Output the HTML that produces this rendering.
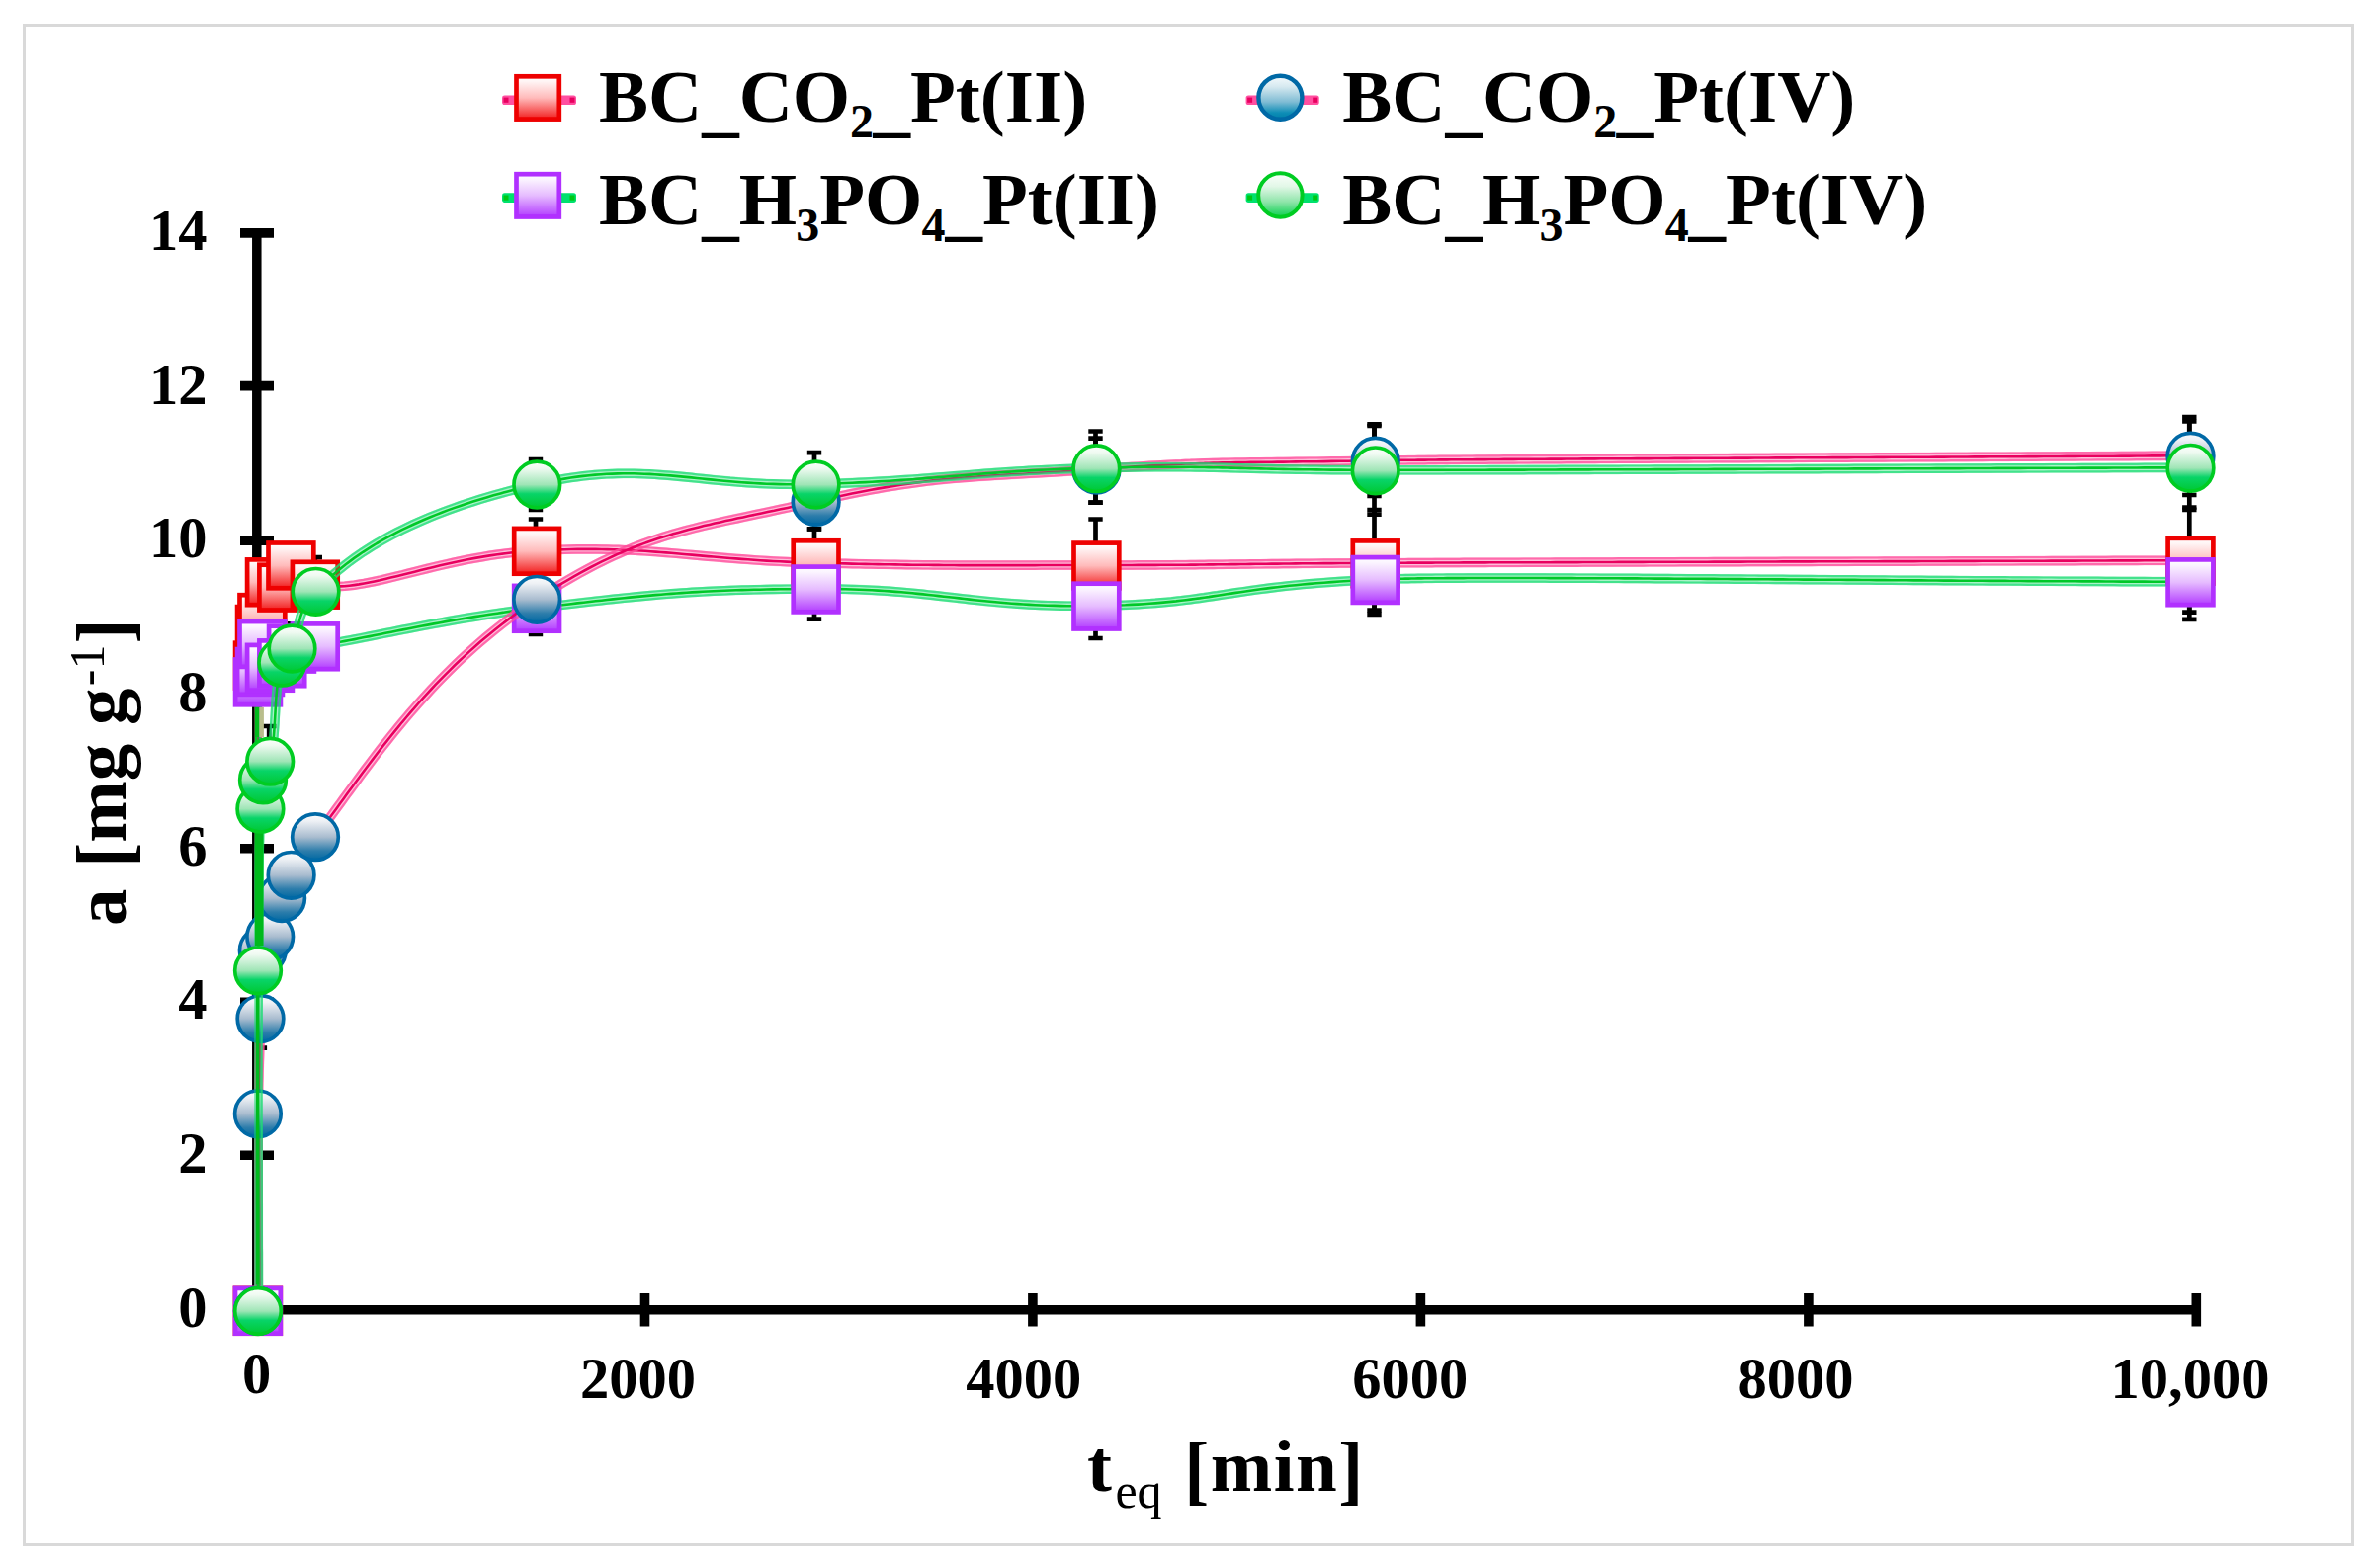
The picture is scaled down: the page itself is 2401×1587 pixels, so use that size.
<!DOCTYPE html>
<html><head><meta charset="utf-8"><title>Adsorption kinetics</title>
<style>
html,body{margin:0;padding:0;background:#fff}
svg{display:block}
text{font-family:"Liberation Serif","Times New Roman",serif;font-weight:bold;fill:#000}
</style></head><body>
<svg width="2401" height="1587" viewBox="0 0 2401 1587">
<defs>
<linearGradient id="gr" x1="0" y1="0" x2="0" y2="1"><stop offset="0" stop-color="#fff"/><stop offset="0.12" stop-color="#fff4f4"/><stop offset="0.5" stop-color="#fbb"/><stop offset="1" stop-color="#f21e1e"/></linearGradient>
<linearGradient id="gp" x1="0" y1="0" x2="0" y2="1"><stop offset="0" stop-color="#fff"/><stop offset="0.12" stop-color="#fbf4ff"/><stop offset="0.5" stop-color="#e6bcff"/><stop offset="1" stop-color="#b23cff"/></linearGradient>
<linearGradient id="gb" x1="0" y1="0" x2="0" y2="1"><stop offset="0" stop-color="#fbfcfd"/><stop offset="0.15" stop-color="#eef1f5"/><stop offset="0.5" stop-color="#a9bccf"/><stop offset="0.8" stop-color="#2d7dab"/><stop offset="1" stop-color="#0068a2"/></linearGradient>
<linearGradient id="gg" x1="0" y1="0" x2="0" y2="1"><stop offset="0" stop-color="#fcfffc"/><stop offset="0.15" stop-color="#effaf1"/><stop offset="0.5" stop-color="#9fe5b6"/><stop offset="0.7" stop-color="#08d468"/><stop offset="1" stop-color="#00c832"/></linearGradient>
<linearGradient id="gbl" x1="0" y1="0" x2="0" y2="1"><stop offset="0" stop-color="#f6fbfd"/><stop offset="0.25" stop-color="#d6e9f0"/><stop offset="0.6" stop-color="#7fbcd4"/><stop offset="0.85" stop-color="#0d8db6"/><stop offset="1" stop-color="#007fa9"/></linearGradient>
<linearGradient id="ggl" x1="0" y1="0" x2="0" y2="1"><stop offset="0" stop-color="#fcfffc"/><stop offset="0.3" stop-color="#e2f7e7"/><stop offset="0.65" stop-color="#8fe5aa"/><stop offset="0.9" stop-color="#2fd669"/><stop offset="1" stop-color="#18cf50"/></linearGradient>
<clipPath id="cl"><rect x="257.5" y="0" width="2200" height="1587"/></clipPath>
</defs>
<rect x="0" y="0" width="2401" height="1587" fill="#fff"/>
<rect x="24.5" y="25.5" width="2356" height="1538" fill="none" stroke="#d9d9d9" stroke-width="3"/>

<g id="axes" stroke="#000" fill="none">
<path d="M259.8 231V1330.4" stroke-width="9.5"/>
<path d="M255 1325.7H2227" stroke-width="9.5"/>
<path d="M243 1325.7H277" stroke-width="9.6"/>
<path d="M243 1169.2H277" stroke-width="9.6"/>
<path d="M243 1014.3H277" stroke-width="9.6"/>
<path d="M243 858.7H277" stroke-width="9.6"/>
<path d="M243 703.0H277" stroke-width="9.6"/>
<path d="M243 547.3H277" stroke-width="9.6"/>
<path d="M243 390.6H277" stroke-width="9.6"/>
<path d="M243 235.9H277" stroke-width="9.6"/>
<path d="M260.0 1309V1342.5" stroke-width="9.6"/>
<path d="M652.5 1309V1342.5" stroke-width="9.6"/>
<path d="M1044.9 1309V1342.5" stroke-width="9.6"/>
<path d="M1437.4 1309V1342.5" stroke-width="9.6"/>
<path d="M1829.9 1309V1342.5" stroke-width="9.6"/>
<path d="M2222.3 1309V1342.5" stroke-width="9.6"/>
</g>
<g id="ticklabels" font-size="58.5">
<text x="209.5" y="1342.7" text-anchor="end">0</text>
<text x="209.5" y="1187.0" text-anchor="end">2</text>
<text x="209.5" y="1031.3" text-anchor="end">4</text>
<text x="209.5" y="875.7" text-anchor="end">6</text>
<text x="209.5" y="720.0" text-anchor="end">8</text>
<text x="209.5" y="564.3" text-anchor="end">10</text>
<text x="209.5" y="408.6" text-anchor="end">12</text>
<text x="209.5" y="252.9" text-anchor="end">14</text>
<text x="259.7" y="1409.7" text-anchor="middle">0</text>
<text x="645.4" y="1414.8" text-anchor="middle">2000</text>
<text x="1035.8" y="1414.8" text-anchor="middle">4000</text>
<text x="1426.8" y="1414.8" text-anchor="middle">6000</text>
<text x="1817" y="1414.8" text-anchor="middle">8000</text>
<text x="2216" y="1414.8" text-anchor="middle">10,000</text>
</g>
<g id="titles" font-size="75">
<text x="1100" y="1508.8">t<tspan font-size="50" font-weight="normal" dy="16.8" dx="3.4">eq</tspan></text>
<text transform="translate(1198.2 1512.7) scale(1 1.055)">[</text>
<text x="1224.7" y="1508.8" letter-spacing="1.52">min</text>
<text transform="translate(1354.3 1512.7) scale(1 1.055)">]</text>
<g transform="translate(127.4 937) rotate(-90)">
<text x="0" y="0">a</text>
<text transform="translate(59.2 3.9) scale(1 1.055)">[</text>
<text x="84.2" y="0">mg g<tspan font-size="50" font-weight="normal" dy="-22.3" dx="2.3">-1</tspan></text>
<text transform="translate(285.6 3.9) scale(1 1.055)">]</text>
</g>
</g>
<g id="errorbars">
<path d="M542 465V516M534.8 465H549.2M534.8 516H549.2" stroke="#000" stroke-width="4.7" fill="none"/>
<path d="M542 525.5V590M534.8 525.5H549.2M534.8 590H549.2" stroke="#000" stroke-width="4.7" fill="none"/>
<path d="M542 590V641.8M534.8 590H549.2M534.8 641.8H549.2" stroke="#000" stroke-width="4.7" fill="none"/>
<path d="M824 458.1V523M816.8 458.1H831.2M816.8 523H831.2" stroke="#000" stroke-width="4.7" fill="none"/>
<path d="M824 480.4V535.4M816.8 480.4H831.2M816.8 535.4H831.2" stroke="#000" stroke-width="4.7" fill="none"/>
<path d="M824 535.5V605M816.8 535.5H831.2M816.8 605H831.2" stroke="#000" stroke-width="4.7" fill="none"/>
<path d="M824 566.4V626.6M816.8 566.4H831.2M816.8 626.6H831.2" stroke="#000" stroke-width="4.7" fill="none"/>
<path d="M1108.5 436.5V508.6M1101.3 436.5H1115.7M1101.3 508.6H1115.7" stroke="#000" stroke-width="4.7" fill="none"/>
<path d="M1108.5 443.6V508.6M1101.3 443.6H1115.7M1101.3 508.6H1115.7" stroke="#000" stroke-width="4.7" fill="none"/>
<path d="M1108.5 525.5V619.5M1101.3 525.5H1115.7M1101.3 619.5H1115.7" stroke="#000" stroke-width="4.7" fill="none"/>
<path d="M1108.5 581V646M1101.3 581H1115.7M1101.3 646H1115.7" stroke="#000" stroke-width="4.7" fill="none"/>
<path d="M1390.5 431V502M1383.3 431H1397.7M1383.3 502H1397.7" stroke="#000" stroke-width="4.7" fill="none"/>
<path d="M1390.5 429.3V520.7M1383.3 429.3H1397.7M1383.3 520.7H1397.7" stroke="#000" stroke-width="4.7" fill="none"/>
<path d="M1390.5 516V621.8M1383.3 516H1397.7M1383.3 621.8H1397.7" stroke="#000" stroke-width="4.7" fill="none"/>
<path d="M1390.5 556.3V617.7M1383.3 556.3H1397.7M1383.3 617.7H1397.7" stroke="#000" stroke-width="4.7" fill="none"/>
<path d="M2215.3 422V501M2208.1000000000004 422H2222.5M2208.1000000000004 501H2222.5" stroke="#000" stroke-width="4.7" fill="none"/>
<path d="M2215.3 426.4V515.8M2208.1000000000004 426.4H2222.5M2208.1000000000004 515.8H2222.5" stroke="#000" stroke-width="4.7" fill="none"/>
<path d="M2215.3 513.5V619.7M2208.1000000000004 513.5H2222.5M2208.1000000000004 619.7H2222.5" stroke="#000" stroke-width="4.7" fill="none"/>
<path d="M2215.3 551.7V626.9M2208.1000000000004 551.7H2222.5M2208.1000000000004 626.9H2222.5" stroke="#000" stroke-width="4.7" fill="none"/>
<path d="M318.8 564.1V619M311.6 564.1H326.0M311.6 619H326.0" stroke="#000" stroke-width="4.7" fill="none"/>
<path d="M272.2 735V806M265.0 735H279.4M265.0 806H279.4" stroke="#000" stroke-width="4.7" fill="none"/>
<path d="M262.9 1001V1060.7M255.7 1001H270.09999999999997M255.7 1060.7H270.09999999999997" stroke="#000" stroke-width="4.7" fill="none"/>
<rect x="291" y="629" width="4" height="4" fill="#000"/>
</g>
<g id="s1">
<g clip-path="url(#cl)"><path d="M261.2 1326.3 L261.2 1318.4 L261.2 1310.6 L261.2 1302.8 L261.2 1294.9 L261.2 1287.1 L261.2 1279.3 L261.2 1271.6 L261.2 1263.8 L261.2 1256.1 L261.1 1248.3 L261.1 1240.6 L261.1 1232.9 L261.1 1225.2 L261.1 1217.6 L261.1 1209.9 L261.1 1202.3 L261.0 1194.7 L261.0 1187.2 L261.0 1179.6 L261.0 1172.1 L261.0 1164.6 L260.9 1157.1 L260.9 1149.6 L260.9 1142.2 L260.9 1134.8 L260.8 1127.4 L260.8 1120.1 L260.8 1112.7 L260.8 1105.4 L260.7 1098.2 L260.7 1090.9 L260.7 1083.7 L260.7 1076.6 L260.6 1069.4 L260.6 1062.3 L260.6 1055.2 L260.6 1048.2 L260.5 1041.2 L260.5 1034.2 L260.5 1027.3 L260.5 1020.4 L260.4 1013.5 L260.4 1006.7 L260.4 999.9 L260.4 993.1 L260.3 986.4 L260.3 979.7 L260.3 973.1 L260.3 966.5 L260.2 960.0 L260.2 953.4 L260.2 947.0 L260.2 940.6 L260.2 934.2 L260.1 927.9 L260.1 921.6 L260.1 915.3 L260.1 909.1 L260.1 903.0 L260.1 896.9 L260.0 890.8 L260.0 884.8 L260.0 878.9 L260.0 873.0 L260.0 867.1 L260.0 861.3 L260.0 855.6 L260.0 849.9 L260.0 844.3 L260.0 838.7 L260.0 833.2 L260.0 827.7 L260.0 822.3 L260.0 816.9 L260.0 811.6 L260.0 806.4 L260.0 801.2 L260.0 796.1 L260.0 791.0 L260.0 786.0 L260.0 781.1 L260.1 776.2 L260.1 771.4 L260.1 766.6 L260.1 761.9 L260.1 757.3 L260.2 752.7 L260.2 748.2 L260.2 743.8 L260.3 739.4 L260.3 735.2 L260.3 730.9 L260.4 726.8 L260.4 722.7 L260.5 718.7 L260.5 714.7 L260.6 710.8 L260.6 707.0 L260.7 703.3 L260.7 699.6 L260.8 696.1 L260.9 692.6 L260.9 689.1 L261.0 685.8 L261.1 682.5 L261.1 679.3 L261.2 676.1 L261.3 673.1 L261.6 662.3 L261.8 654.8 L262.0 649.5 L262.3 645.4 L262.7 641.4 L263.3 636.5 L263.8 632.8 L264.3 630.5 L264.9 628.3 L265.7 624.6 L266.6 618.2 L267.2 611.0 L267.9 603.7 L268.9 597.1 L270.6 591.9 L273.3 588.8 L276.3 589.0 L279.4 591.3 L282.4 593.7 L285.6 594.1 L288.6 589.9 L289.9 582.8 L291.4 575.7 L294.7 571.9 L298.4 572.7 L301.4 576.5 L305.1 581.9 L310.6 587.2 L319.1 591.2 L323.0 592.1 L327.0 592.8 L331.1 593.2 L335.3 593.5 L339.7 593.6 L344.2 593.4 L348.7 593.2 L353.5 592.7 L358.3 592.1 L363.2 591.4 L368.3 590.5 L373.5 589.5 L378.8 588.4 L384.3 587.3 L389.8 586.0 L395.5 584.6 L401.3 583.2 L407.2 581.7 L413.3 580.2 L419.5 578.7 L425.8 577.1 L432.2 575.5 L438.7 573.9 L445.4 572.3 L452.2 570.8 L459.1 569.2 L466.1 567.8 L473.3 566.3 L480.6 564.9 L488.0 563.6 L495.5 562.4 L503.2 561.2 L511.0 560.2 L518.9 559.3 L526.9 558.5 L535.1 557.8 L543.4 557.3 L550.7 556.9 L557.7 556.6 L564.6 556.4 L571.3 556.2 L577.9 556.0 L584.3 555.9 L590.6 555.9 L596.8 555.9 L602.8 555.9 L608.7 556.0 L614.6 556.1 L620.3 556.3 L625.9 556.4 L631.5 556.7 L636.9 556.9 L642.3 557.2 L647.7 557.5 L653.0 557.8 L658.3 558.2 L663.6 558.6 L668.8 559.0 L674.0 559.4 L679.2 559.8 L684.5 560.2 L689.7 560.7 L694.9 561.2 L700.2 561.6 L705.6 562.1 L711.0 562.6 L716.4 563.1 L721.9 563.5 L727.5 564.0 L733.1 564.5 L738.9 565.0 L744.7 565.4 L750.7 565.9 L756.8 566.3 L763.0 566.8 L769.3 567.2 L775.8 567.6 L782.4 568.0 L789.2 568.3 L796.2 568.6 L803.3 569.0 L810.7 569.2 L818.2 569.5 L825.9 569.7 L833.6 569.9 L841.1 570.1 L848.4 570.3 L855.5 570.4 L862.4 570.6 L869.1 570.7 L875.7 570.9 L882.1 571.0 L888.3 571.1 L894.4 571.2 L900.4 571.3 L906.2 571.4 L912.0 571.5 L917.6 571.6 L923.1 571.7 L928.6 571.7 L934.0 571.8 L939.3 571.8 L944.5 571.9 L949.7 571.9 L954.9 572.0 L960.1 572.0 L965.2 572.0 L970.4 572.1 L975.5 572.1 L980.7 572.1 L985.8 572.1 L991.1 572.1 L996.3 572.1 L1001.6 572.1 L1007.0 572.1 L1012.5 572.1 L1018.0 572.1 L1023.6 572.1 L1029.4 572.1 L1035.2 572.1 L1041.2 572.1 L1047.3 572.1 L1053.5 572.0 L1059.9 572.0 L1066.4 572.0 L1073.2 572.0 L1080.1 572.0 L1087.2 572.0 L1094.5 572.0 L1102.0 572.0 L1109.7 572.0 L1117.4 572.0 L1124.7 572.0 L1131.8 572.0 L1138.6 572.0 L1145.1 572.0 L1151.4 571.9 L1157.5 571.9 L1163.4 571.9 L1169.1 571.9 L1174.6 571.8 L1179.9 571.8 L1185.1 571.8 L1190.1 571.7 L1195.0 571.7 L1199.9 571.7 L1204.6 571.6 L1209.3 571.6 L1213.9 571.5 L1218.4 571.5 L1223.0 571.4 L1227.5 571.4 L1232.1 571.3 L1236.6 571.3 L1241.2 571.2 L1245.8 571.1 L1250.6 571.1 L1255.3 571.0 L1260.2 571.0 L1265.2 570.9 L1270.4 570.8 L1275.6 570.8 L1281.1 570.7 L1286.7 570.6 L1292.5 570.6 L1298.5 570.5 L1304.7 570.5 L1311.1 570.4 L1317.8 570.3 L1324.8 570.3 L1332.1 570.2 L1339.6 570.1 L1347.5 570.1 L1355.7 570.0 L1364.2 570.0 L1373.1 569.9 L1382.3 569.9 L1392.0 569.8 L1394.0 569.8 L1396.1 569.8 L1398.3 569.8 L1400.6 569.8 L1403.0 569.7 L1405.5 569.7 L1408.0 569.7 L1410.6 569.7 L1413.4 569.7 L1416.2 569.7 L1419.1 569.7 L1422.1 569.7 L1425.1 569.6 L1428.3 569.6 L1431.5 569.6 L1434.8 569.6 L1438.2 569.6 L1441.7 569.6 L1445.2 569.6 L1448.8 569.6 L1452.5 569.5 L1456.3 569.5 L1460.2 569.5 L1464.1 569.5 L1468.1 569.5 L1472.2 569.5 L1476.3 569.5 L1480.6 569.4 L1484.9 569.4 L1489.2 569.4 L1493.7 569.4 L1498.2 569.4 L1502.8 569.4 L1507.4 569.3 L1512.1 569.3 L1516.9 569.3 L1521.7 569.3 L1526.7 569.3 L1531.6 569.3 L1536.7 569.3 L1541.8 569.2 L1546.9 569.2 L1552.2 569.2 L1557.5 569.2 L1562.8 569.2 L1568.2 569.2 L1573.7 569.1 L1579.2 569.1 L1584.8 569.1 L1590.4 569.1 L1596.1 569.1 L1601.9 569.0 L1607.7 569.0 L1613.5 569.0 L1619.5 569.0 L1625.4 569.0 L1631.4 569.0 L1637.5 568.9 L1643.6 568.9 L1649.8 568.9 L1656.0 568.9 L1662.3 568.9 L1668.6 568.8 L1674.9 568.8 L1681.4 568.8 L1687.8 568.8 L1694.3 568.8 L1700.8 568.7 L1707.4 568.7 L1714.0 568.7 L1720.7 568.7 L1727.4 568.7 L1734.2 568.6 L1740.9 568.6 L1747.8 568.6 L1754.6 568.6 L1761.5 568.6 L1768.5 568.5 L1775.4 568.5 L1782.4 568.5 L1789.5 568.5 L1796.6 568.5 L1803.7 568.4 L1810.8 568.4 L1818.0 568.4 L1825.2 568.4 L1832.4 568.4 L1839.7 568.3 L1847.0 568.3 L1854.3 568.3 L1861.7 568.3 L1869.0 568.3 L1876.4 568.2 L1883.9 568.2 L1891.3 568.2 L1898.8 568.2 L1906.3 568.1 L1913.8 568.1 L1921.3 568.1 L1928.9 568.1 L1936.5 568.1 L1944.1 568.0 L1951.7 568.0 L1959.3 568.0 L1967.0 568.0 L1974.7 567.9 L1982.4 567.9 L1990.1 567.9 L1997.8 567.9 L2005.5 567.8 L2013.3 567.8 L2021.0 567.8 L2028.8 567.8 L2036.6 567.8 L2044.3 567.7 L2052.1 567.7 L2059.9 567.7 L2067.8 567.7 L2075.6 567.6 L2083.4 567.6 L2091.2 567.6 L2099.1 567.6 L2106.9 567.5 L2114.8 567.5 L2122.6 567.5 L2130.5 567.5 L2138.3 567.4 L2146.2 567.4 L2154.0 567.4 L2161.9 567.4 L2169.8 567.3 L2177.6 567.3 L2185.5 567.3 L2193.3 567.3 L2201.1 567.2 L2209.0 567.2 L2216.8 567.2" fill="none" stroke="#ff3d8f" stroke-width="9.8" stroke-linejoin="round" stroke-opacity="0.34"/>
<path d="M257.5 1326.3 L257.5 1318.4 L257.5 1310.6 L257.5 1302.8 L257.5 1294.9 L257.5 1287.1 L257.5 1279.3 L257.5 1271.6 L257.5 1263.8 L257.5 1256.1 L257.4 1248.3 L257.4 1240.6 L257.4 1232.9 L257.4 1225.2 L257.4 1217.6 L257.4 1210.0 L257.4 1202.3 L257.3 1194.7 L257.3 1187.2 L257.3 1179.6 L257.3 1172.1 L257.3 1164.6 L257.2 1157.1 L257.2 1149.6 L257.2 1142.2 L257.2 1134.8 L257.1 1127.4 L257.1 1120.1 L257.1 1112.7 L257.1 1105.5 L257.0 1098.2 L257.0 1091.0 L257.0 1083.7 L257.0 1076.6 L256.9 1069.4 L256.9 1062.3 L256.9 1055.2 L256.9 1048.2 L256.8 1041.2 L256.8 1034.2 L256.8 1027.3 L256.8 1020.4 L256.7 1013.5 L256.7 1006.7 L256.7 999.9 L256.7 993.1 L256.6 986.4 L256.6 979.7 L256.6 973.1 L256.6 966.5 L256.5 960.0 L256.5 953.5 L256.5 947.0 L256.5 940.6 L256.5 934.2 L256.4 927.9 L256.4 921.6 L256.4 915.3 L256.4 909.1 L256.4 903.0 L256.4 896.9 L256.3 890.8 L256.3 884.8 L256.3 878.9 L256.3 873.0 L256.3 867.1 L256.3 861.4 L256.3 855.6 L256.3 849.9 L256.3 844.3 L256.3 838.7 L256.3 833.2 L256.3 827.7 L256.3 822.3 L256.3 816.9 L256.3 811.6 L256.3 806.4 L256.3 801.2 L256.3 796.1 L256.3 791.0 L256.3 786.0 L256.3 781.1 L256.4 776.2 L256.4 771.4 L256.4 766.6 L256.4 761.9 L256.4 757.3 L256.5 752.7 L256.5 748.2 L256.5 743.8 L256.6 739.4 L256.6 735.1 L256.6 730.9 L256.7 726.7 L256.7 722.6 L256.8 718.6 L256.8 714.7 L256.9 710.8 L256.9 707.0 L257.0 703.2 L257.0 699.6 L257.1 696.0 L257.2 692.5 L257.2 689.0 L257.3 685.7 L257.4 682.4 L257.4 679.2 L257.5 676.1 L257.6 673.0 L257.9 662.2 L258.1 654.6 L258.3 649.3 L258.6 645.1 L259.0 641.0 L259.6 636.0 L260.2 632.2 L260.7 629.7 L261.3 627.4 L262.1 624.0 L262.9 617.8 L263.5 610.7 L264.2 603.3 L265.3 596.3 L267.3 590.1 L271.6 585.5 L277.8 585.6 L281.6 588.4 L283.9 590.3 L283.6 591.0 L285.1 588.6 L286.3 582.0 L288.0 574.3 L293.2 568.5 L300.5 569.7 L304.4 574.3 L307.9 579.4 L312.6 584.2 L320.5 587.8 L323.7 588.5 L327.5 589.1 L331.4 589.6 L335.5 589.8 L339.7 589.9 L344.0 589.8 L348.5 589.5 L353.1 589.0 L357.8 588.5 L362.7 587.7 L367.7 586.9 L372.8 585.9 L378.1 584.8 L383.5 583.7 L389.0 582.4 L394.7 581.0 L400.4 579.6 L406.4 578.2 L412.4 576.6 L418.6 575.1 L424.9 573.5 L431.3 571.9 L437.9 570.3 L444.5 568.7 L451.4 567.2 L458.3 565.6 L465.4 564.1 L472.6 562.7 L479.9 561.3 L487.4 560.0 L495.0 558.7 L502.7 557.6 L510.5 556.5 L518.5 555.6 L526.6 554.8 L534.8 554.1 L543.2 553.6 L550.5 553.2 L557.6 552.9 L564.5 552.7 L571.3 552.5 L577.9 552.3 L584.3 552.2 L590.6 552.2 L596.8 552.2 L602.9 552.2 L608.8 552.3 L614.6 552.4 L620.4 552.6 L626.0 552.7 L631.6 553.0 L637.1 553.2 L642.5 553.5 L647.9 553.8 L653.3 554.1 L658.6 554.5 L663.8 554.9 L669.1 555.3 L674.3 555.7 L679.5 556.1 L684.8 556.5 L690.0 557.0 L695.3 557.5 L700.6 557.9 L705.9 558.4 L711.3 558.9 L716.7 559.4 L722.2 559.9 L727.8 560.3 L733.4 560.8 L739.2 561.3 L745.0 561.8 L751.0 562.2 L757.1 562.7 L763.2 563.1 L769.6 563.5 L776.0 563.9 L782.6 564.3 L789.4 564.6 L796.4 564.9 L803.5 565.3 L810.8 565.5 L818.3 565.8 L826.0 566.0 L833.7 566.2 L841.2 566.4 L848.5 566.6 L855.6 566.7 L862.5 566.9 L869.2 567.0 L875.8 567.2 L882.2 567.3 L888.4 567.4 L894.5 567.5 L900.5 567.6 L906.3 567.7 L912.0 567.8 L917.6 567.9 L923.2 568.0 L928.6 568.0 L934.0 568.1 L939.3 568.1 L944.6 568.2 L949.8 568.2 L955.0 568.3 L960.1 568.3 L965.2 568.3 L970.4 568.4 L975.5 568.4 L980.7 568.4 L985.9 568.4 L991.1 568.4 L996.3 568.4 L1001.6 568.4 L1007.0 568.4 L1012.5 568.4 L1018.0 568.4 L1023.6 568.4 L1029.4 568.4 L1035.2 568.4 L1041.2 568.4 L1047.3 568.4 L1053.5 568.3 L1059.9 568.3 L1066.4 568.3 L1073.2 568.3 L1080.1 568.3 L1087.2 568.3 L1094.5 568.3 L1102.0 568.3 L1109.7 568.3 L1117.4 568.3 L1124.7 568.3 L1131.8 568.3 L1138.6 568.3 L1145.1 568.3 L1151.4 568.2 L1157.5 568.2 L1163.4 568.2 L1169.0 568.2 L1174.5 568.1 L1179.9 568.1 L1185.0 568.1 L1190.1 568.0 L1195.0 568.0 L1199.8 568.0 L1204.6 567.9 L1209.2 567.9 L1213.8 567.8 L1218.4 567.8 L1222.9 567.7 L1227.5 567.7 L1232.0 567.6 L1236.6 567.6 L1241.2 567.5 L1245.8 567.4 L1250.5 567.4 L1255.3 567.3 L1260.2 567.3 L1265.2 567.2 L1270.3 567.1 L1275.6 567.1 L1281.0 567.0 L1286.6 566.9 L1292.4 566.9 L1298.4 566.8 L1304.6 566.8 L1311.1 566.7 L1317.8 566.6 L1324.8 566.6 L1332.0 566.5 L1339.6 566.4 L1347.4 566.4 L1355.6 566.3 L1364.2 566.3 L1373.1 566.2 L1382.3 566.2 L1392.0 566.1 L1394.0 566.1 L1396.1 566.1 L1398.3 566.1 L1400.6 566.1 L1403.0 566.0 L1405.4 566.0 L1408.0 566.0 L1410.6 566.0 L1413.4 566.0 L1416.2 566.0 L1419.1 566.0 L1422.0 566.0 L1425.1 565.9 L1428.3 565.9 L1431.5 565.9 L1434.8 565.9 L1438.2 565.9 L1441.6 565.9 L1445.2 565.9 L1448.8 565.9 L1452.5 565.8 L1456.3 565.8 L1460.2 565.8 L1464.1 565.8 L1468.1 565.8 L1472.2 565.8 L1476.3 565.8 L1480.6 565.7 L1484.9 565.7 L1489.2 565.7 L1493.7 565.7 L1498.2 565.7 L1502.8 565.7 L1507.4 565.6 L1512.1 565.6 L1516.9 565.6 L1521.7 565.6 L1526.6 565.6 L1531.6 565.6 L1536.7 565.6 L1541.8 565.5 L1546.9 565.5 L1552.2 565.5 L1557.5 565.5 L1562.8 565.5 L1568.2 565.5 L1573.7 565.4 L1579.2 565.4 L1584.8 565.4 L1590.4 565.4 L1596.1 565.4 L1601.9 565.3 L1607.7 565.3 L1613.5 565.3 L1619.4 565.3 L1625.4 565.3 L1631.4 565.3 L1637.5 565.2 L1643.6 565.2 L1649.8 565.2 L1656.0 565.2 L1662.3 565.2 L1668.6 565.1 L1674.9 565.1 L1681.3 565.1 L1687.8 565.1 L1694.3 565.1 L1700.8 565.0 L1707.4 565.0 L1714.0 565.0 L1720.7 565.0 L1727.4 565.0 L1734.1 564.9 L1740.9 564.9 L1747.8 564.9 L1754.6 564.9 L1761.5 564.9 L1768.5 564.8 L1775.4 564.8 L1782.4 564.8 L1789.5 564.8 L1796.6 564.8 L1803.7 564.7 L1810.8 564.7 L1818.0 564.7 L1825.2 564.7 L1832.4 564.7 L1839.7 564.6 L1847.0 564.6 L1854.3 564.6 L1861.6 564.6 L1869.0 564.6 L1876.4 564.5 L1883.8 564.5 L1891.3 564.5 L1898.8 564.5 L1906.3 564.4 L1913.8 564.4 L1921.3 564.4 L1928.9 564.4 L1936.5 564.4 L1944.1 564.3 L1951.7 564.3 L1959.3 564.3 L1967.0 564.3 L1974.7 564.2 L1982.3 564.2 L1990.0 564.2 L1997.8 564.2 L2005.5 564.1 L2013.2 564.1 L2021.0 564.1 L2028.8 564.1 L2036.5 564.1 L2044.3 564.0 L2052.1 564.0 L2059.9 564.0 L2067.8 564.0 L2075.6 563.9 L2083.4 563.9 L2091.2 563.9 L2099.1 563.9 L2106.9 563.8 L2114.8 563.8 L2122.6 563.8 L2130.5 563.8 L2138.3 563.7 L2146.2 563.7 L2154.0 563.7 L2161.9 563.7 L2169.7 563.6 L2177.6 563.6 L2185.4 563.6 L2193.3 563.6 L2201.1 563.5 L2209.0 563.5 L2216.8 563.5" fill="none" stroke="#ff4f9c" stroke-width="2.2" stroke-linejoin="round" stroke-opacity="0.75"/>
<path d="M264.9 1326.3 L264.9 1318.4 L264.9 1310.6 L264.9 1302.8 L264.9 1294.9 L264.9 1287.1 L264.9 1279.3 L264.9 1271.6 L264.9 1263.8 L264.9 1256.1 L264.8 1248.3 L264.8 1240.6 L264.8 1232.9 L264.8 1225.2 L264.8 1217.6 L264.8 1209.9 L264.8 1202.3 L264.7 1194.7 L264.7 1187.1 L264.7 1179.6 L264.7 1172.1 L264.7 1164.6 L264.6 1157.1 L264.6 1149.6 L264.6 1142.2 L264.6 1134.8 L264.5 1127.4 L264.5 1120.0 L264.5 1112.7 L264.5 1105.4 L264.4 1098.2 L264.4 1090.9 L264.4 1083.7 L264.4 1076.5 L264.3 1069.4 L264.3 1062.3 L264.3 1055.2 L264.3 1048.2 L264.2 1041.2 L264.2 1034.2 L264.2 1027.2 L264.2 1020.3 L264.1 1013.5 L264.1 1006.6 L264.1 999.9 L264.1 993.1 L264.0 986.4 L264.0 979.7 L264.0 973.1 L264.0 966.5 L263.9 959.9 L263.9 953.4 L263.9 947.0 L263.9 940.5 L263.9 934.2 L263.8 927.8 L263.8 921.6 L263.8 915.3 L263.8 909.1 L263.8 903.0 L263.8 896.9 L263.7 890.8 L263.7 884.8 L263.7 878.9 L263.7 873.0 L263.7 867.1 L263.7 861.3 L263.7 855.6 L263.7 849.9 L263.7 844.3 L263.7 838.7 L263.7 833.2 L263.7 827.7 L263.7 822.3 L263.7 816.9 L263.7 811.6 L263.7 806.4 L263.7 801.2 L263.7 796.1 L263.7 791.0 L263.7 786.0 L263.7 781.1 L263.8 776.2 L263.8 771.4 L263.8 766.6 L263.8 761.9 L263.8 757.3 L263.9 752.8 L263.9 748.3 L263.9 743.8 L264.0 739.5 L264.0 735.2 L264.0 731.0 L264.1 726.8 L264.1 722.7 L264.2 718.7 L264.2 714.8 L264.3 710.9 L264.3 707.1 L264.4 703.4 L264.4 699.7 L264.5 696.1 L264.6 692.6 L264.6 689.2 L264.7 685.8 L264.8 682.6 L264.8 679.4 L264.9 676.2 L265.0 673.2 L265.3 662.4 L265.5 654.9 L265.7 649.7 L266.0 645.7 L266.4 641.8 L267.0 637.0 L267.5 633.4 L267.9 631.4 L268.5 629.1 L269.3 625.2 L270.3 618.7 L270.9 611.4 L271.5 604.2 L272.5 597.9 L273.8 593.6 L275.0 592.1 L274.9 592.4 L277.1 594.2 L280.9 597.1 L287.6 597.2 L292.0 591.2 L293.5 583.5 L294.8 577.2 L296.2 575.3 L296.3 575.8 L298.5 578.7 L302.3 584.3 L308.5 590.3 L317.7 594.6 L322.3 595.7 L326.5 596.4 L330.8 596.9 L335.2 597.2 L339.7 597.3 L344.3 597.1 L349.0 596.9 L353.9 596.4 L358.8 595.8 L363.8 595.0 L369.0 594.2 L374.2 593.2 L379.6 592.1 L385.1 590.9 L390.7 589.6 L396.4 588.2 L402.2 586.8 L408.1 585.3 L414.2 583.8 L420.4 582.3 L426.7 580.7 L433.1 579.1 L439.6 577.5 L446.2 576.0 L453.0 574.4 L459.9 572.9 L466.9 571.4 L474.0 569.9 L481.2 568.6 L488.6 567.3 L496.1 566.0 L503.7 564.9 L511.4 563.9 L519.3 563.0 L527.3 562.2 L535.4 561.5 L543.6 561.0 L550.8 560.6 L557.9 560.3 L564.7 560.1 L571.4 559.9 L578.0 559.7 L584.4 559.6 L590.7 559.6 L596.8 559.6 L602.8 559.6 L608.7 559.7 L614.5 559.8 L620.2 559.9 L625.8 560.1 L631.3 560.4 L636.8 560.6 L642.1 560.9 L647.5 561.2 L652.8 561.5 L658.0 561.9 L663.3 562.2 L668.5 562.6 L673.7 563.1 L678.9 563.5 L684.1 563.9 L689.4 564.4 L694.6 564.8 L699.9 565.3 L705.2 565.8 L710.6 566.3 L716.1 566.8 L721.6 567.2 L727.2 567.7 L732.8 568.2 L738.6 568.7 L744.5 569.1 L750.4 569.6 L756.5 570.0 L762.7 570.5 L769.1 570.9 L775.6 571.3 L782.2 571.7 L789.1 572.0 L796.0 572.3 L803.2 572.6 L810.5 572.9 L818.1 573.2 L825.8 573.4 L833.5 573.6 L841.0 573.8 L848.3 574.0 L855.4 574.1 L862.3 574.3 L869.1 574.4 L875.6 574.6 L882.0 574.7 L888.3 574.8 L894.4 574.9 L900.3 575.0 L906.2 575.1 L911.9 575.2 L917.5 575.3 L923.1 575.4 L928.5 575.4 L933.9 575.5 L939.2 575.5 L944.5 575.6 L949.7 575.6 L954.9 575.7 L960.1 575.7 L965.2 575.7 L970.4 575.8 L975.5 575.8 L980.7 575.8 L985.8 575.8 L991.1 575.8 L996.3 575.8 L1001.6 575.8 L1007.0 575.8 L1012.5 575.8 L1018.0 575.8 L1023.6 575.8 L1029.4 575.8 L1035.2 575.8 L1041.2 575.8 L1047.3 575.8 L1053.5 575.7 L1059.9 575.7 L1066.5 575.7 L1073.2 575.7 L1080.1 575.7 L1087.2 575.7 L1094.5 575.7 L1102.0 575.7 L1109.7 575.7 L1117.4 575.7 L1124.7 575.7 L1131.8 575.7 L1138.6 575.7 L1145.1 575.7 L1151.5 575.6 L1157.5 575.6 L1163.4 575.6 L1169.1 575.6 L1174.6 575.5 L1179.9 575.5 L1185.1 575.5 L1190.1 575.4 L1195.1 575.4 L1199.9 575.4 L1204.6 575.3 L1209.3 575.3 L1213.9 575.2 L1218.5 575.2 L1223.0 575.1 L1227.6 575.1 L1232.1 575.0 L1236.7 575.0 L1241.2 574.9 L1245.9 574.8 L1250.6 574.8 L1255.4 574.7 L1260.3 574.7 L1265.3 574.6 L1270.4 574.5 L1275.7 574.5 L1281.1 574.4 L1286.7 574.3 L1292.5 574.3 L1298.5 574.2 L1304.7 574.2 L1311.2 574.1 L1317.9 574.0 L1324.8 574.0 L1332.1 573.9 L1339.6 573.8 L1347.5 573.8 L1355.7 573.7 L1364.2 573.7 L1373.1 573.6 L1382.4 573.6 L1392.0 573.5 L1394.0 573.5 L1396.1 573.5 L1398.3 573.5 L1400.6 573.5 L1403.0 573.4 L1405.5 573.4 L1408.0 573.4 L1410.7 573.4 L1413.4 573.4 L1416.2 573.4 L1419.1 573.4 L1422.1 573.4 L1425.1 573.3 L1428.3 573.3 L1431.5 573.3 L1434.8 573.3 L1438.2 573.3 L1441.7 573.3 L1445.2 573.3 L1448.8 573.3 L1452.6 573.2 L1456.3 573.2 L1460.2 573.2 L1464.1 573.2 L1468.1 573.2 L1472.2 573.2 L1476.4 573.2 L1480.6 573.1 L1484.9 573.1 L1489.3 573.1 L1493.7 573.1 L1498.2 573.1 L1502.8 573.1 L1507.4 573.0 L1512.1 573.0 L1516.9 573.0 L1521.8 573.0 L1526.7 573.0 L1531.6 573.0 L1536.7 573.0 L1541.8 572.9 L1547.0 572.9 L1552.2 572.9 L1557.5 572.9 L1562.8 572.9 L1568.2 572.9 L1573.7 572.8 L1579.2 572.8 L1584.8 572.8 L1590.4 572.8 L1596.1 572.8 L1601.9 572.7 L1607.7 572.7 L1613.6 572.7 L1619.5 572.7 L1625.4 572.7 L1631.5 572.7 L1637.5 572.6 L1643.6 572.6 L1649.8 572.6 L1656.0 572.6 L1662.3 572.6 L1668.6 572.5 L1675.0 572.5 L1681.4 572.5 L1687.8 572.5 L1694.3 572.5 L1700.8 572.4 L1707.4 572.4 L1714.1 572.4 L1720.7 572.4 L1727.4 572.4 L1734.2 572.3 L1741.0 572.3 L1747.8 572.3 L1754.6 572.3 L1761.5 572.3 L1768.5 572.2 L1775.5 572.2 L1782.5 572.2 L1789.5 572.2 L1796.6 572.2 L1803.7 572.1 L1810.8 572.1 L1818.0 572.1 L1825.2 572.1 L1832.4 572.1 L1839.7 572.0 L1847.0 572.0 L1854.3 572.0 L1861.7 572.0 L1869.0 572.0 L1876.4 571.9 L1883.9 571.9 L1891.3 571.9 L1898.8 571.9 L1906.3 571.8 L1913.8 571.8 L1921.4 571.8 L1928.9 571.8 L1936.5 571.8 L1944.1 571.7 L1951.7 571.7 L1959.4 571.7 L1967.0 571.7 L1974.7 571.6 L1982.4 571.6 L1990.1 571.6 L1997.8 571.6 L2005.5 571.5 L2013.3 571.5 L2021.0 571.5 L2028.8 571.5 L2036.6 571.5 L2044.4 571.4 L2052.2 571.4 L2060.0 571.4 L2067.8 571.4 L2075.6 571.3 L2083.4 571.3 L2091.3 571.3 L2099.1 571.3 L2106.9 571.2 L2114.8 571.2 L2122.6 571.2 L2130.5 571.2 L2138.3 571.1 L2146.2 571.1 L2154.1 571.1 L2161.9 571.1 L2169.8 571.0 L2177.6 571.0 L2185.5 571.0 L2193.3 571.0 L2201.1 570.9 L2209.0 570.9 L2216.8 570.9" fill="none" stroke="#ff4f9c" stroke-width="2.2" stroke-linejoin="round" stroke-opacity="0.75"/>
<path d="M261.2 1326.3 L261.2 1318.4 L261.2 1310.6 L261.2 1302.8 L261.2 1294.9 L261.2 1287.1 L261.2 1279.3 L261.2 1271.6 L261.2 1263.8 L261.2 1256.1 L261.1 1248.3 L261.1 1240.6 L261.1 1232.9 L261.1 1225.2 L261.1 1217.6 L261.1 1209.9 L261.1 1202.3 L261.0 1194.7 L261.0 1187.2 L261.0 1179.6 L261.0 1172.1 L261.0 1164.6 L260.9 1157.1 L260.9 1149.6 L260.9 1142.2 L260.9 1134.8 L260.8 1127.4 L260.8 1120.1 L260.8 1112.7 L260.8 1105.4 L260.7 1098.2 L260.7 1090.9 L260.7 1083.7 L260.7 1076.6 L260.6 1069.4 L260.6 1062.3 L260.6 1055.2 L260.6 1048.2 L260.5 1041.2 L260.5 1034.2 L260.5 1027.3 L260.5 1020.4 L260.4 1013.5 L260.4 1006.7 L260.4 999.9 L260.4 993.1 L260.3 986.4 L260.3 979.7 L260.3 973.1 L260.3 966.5 L260.2 960.0 L260.2 953.4 L260.2 947.0 L260.2 940.6 L260.2 934.2 L260.1 927.9 L260.1 921.6 L260.1 915.3 L260.1 909.1 L260.1 903.0 L260.1 896.9 L260.0 890.8 L260.0 884.8 L260.0 878.9 L260.0 873.0 L260.0 867.1 L260.0 861.3 L260.0 855.6 L260.0 849.9 L260.0 844.3 L260.0 838.7 L260.0 833.2 L260.0 827.7 L260.0 822.3 L260.0 816.9 L260.0 811.6 L260.0 806.4 L260.0 801.2 L260.0 796.1 L260.0 791.0 L260.0 786.0 L260.0 781.1 L260.1 776.2 L260.1 771.4 L260.1 766.6 L260.1 761.9 L260.1 757.3 L260.2 752.7 L260.2 748.2 L260.2 743.8 L260.3 739.4 L260.3 735.2 L260.3 730.9 L260.4 726.8 L260.4 722.7 L260.5 718.7 L260.5 714.7 L260.6 710.8 L260.6 707.0 L260.7 703.3 L260.7 699.6 L260.8 696.1 L260.9 692.6 L260.9 689.1 L261.0 685.8 L261.1 682.5 L261.1 679.3 L261.2 676.1 L261.3 673.1 L261.6 662.3 L261.8 654.8 L262.0 649.5 L262.3 645.4 L262.7 641.4 L263.3 636.5 L263.8 632.8 L264.3 630.5 L264.9 628.3 L265.7 624.6 L266.6 618.2 L267.2 611.0 L267.9 603.7 L268.9 597.1 L270.6 591.9 L273.3 588.8 L276.3 589.0 L279.4 591.3 L282.4 593.7 L285.6 594.1 L288.6 589.9 L289.9 582.8 L291.4 575.7 L294.7 571.9 L298.4 572.7 L301.4 576.5 L305.1 581.9 L310.6 587.2 L319.1 591.2 L323.0 592.1 L327.0 592.8 L331.1 593.2 L335.3 593.5 L339.7 593.6 L344.2 593.4 L348.7 593.2 L353.5 592.7 L358.3 592.1 L363.2 591.4 L368.3 590.5 L373.5 589.5 L378.8 588.4 L384.3 587.3 L389.8 586.0 L395.5 584.6 L401.3 583.2 L407.2 581.7 L413.3 580.2 L419.5 578.7 L425.8 577.1 L432.2 575.5 L438.7 573.9 L445.4 572.3 L452.2 570.8 L459.1 569.2 L466.1 567.8 L473.3 566.3 L480.6 564.9 L488.0 563.6 L495.5 562.4 L503.2 561.2 L511.0 560.2 L518.9 559.3 L526.9 558.5 L535.1 557.8 L543.4 557.3 L550.7 556.9 L557.7 556.6 L564.6 556.4 L571.3 556.2 L577.9 556.0 L584.3 555.9 L590.6 555.9 L596.8 555.9 L602.8 555.9 L608.7 556.0 L614.6 556.1 L620.3 556.3 L625.9 556.4 L631.5 556.7 L636.9 556.9 L642.3 557.2 L647.7 557.5 L653.0 557.8 L658.3 558.2 L663.6 558.6 L668.8 559.0 L674.0 559.4 L679.2 559.8 L684.5 560.2 L689.7 560.7 L694.9 561.2 L700.2 561.6 L705.6 562.1 L711.0 562.6 L716.4 563.1 L721.9 563.5 L727.5 564.0 L733.1 564.5 L738.9 565.0 L744.7 565.4 L750.7 565.9 L756.8 566.3 L763.0 566.8 L769.3 567.2 L775.8 567.6 L782.4 568.0 L789.2 568.3 L796.2 568.6 L803.3 569.0 L810.7 569.2 L818.2 569.5 L825.9 569.7 L833.6 569.9 L841.1 570.1 L848.4 570.3 L855.5 570.4 L862.4 570.6 L869.1 570.7 L875.7 570.9 L882.1 571.0 L888.3 571.1 L894.4 571.2 L900.4 571.3 L906.2 571.4 L912.0 571.5 L917.6 571.6 L923.1 571.7 L928.6 571.7 L934.0 571.8 L939.3 571.8 L944.5 571.9 L949.7 571.9 L954.9 572.0 L960.1 572.0 L965.2 572.0 L970.4 572.1 L975.5 572.1 L980.7 572.1 L985.8 572.1 L991.1 572.1 L996.3 572.1 L1001.6 572.1 L1007.0 572.1 L1012.5 572.1 L1018.0 572.1 L1023.6 572.1 L1029.4 572.1 L1035.2 572.1 L1041.2 572.1 L1047.3 572.1 L1053.5 572.0 L1059.9 572.0 L1066.4 572.0 L1073.2 572.0 L1080.1 572.0 L1087.2 572.0 L1094.5 572.0 L1102.0 572.0 L1109.7 572.0 L1117.4 572.0 L1124.7 572.0 L1131.8 572.0 L1138.6 572.0 L1145.1 572.0 L1151.4 571.9 L1157.5 571.9 L1163.4 571.9 L1169.1 571.9 L1174.6 571.8 L1179.9 571.8 L1185.1 571.8 L1190.1 571.7 L1195.0 571.7 L1199.9 571.7 L1204.6 571.6 L1209.3 571.6 L1213.9 571.5 L1218.4 571.5 L1223.0 571.4 L1227.5 571.4 L1232.1 571.3 L1236.6 571.3 L1241.2 571.2 L1245.8 571.1 L1250.6 571.1 L1255.3 571.0 L1260.2 571.0 L1265.2 570.9 L1270.4 570.8 L1275.6 570.8 L1281.1 570.7 L1286.7 570.6 L1292.5 570.6 L1298.5 570.5 L1304.7 570.5 L1311.1 570.4 L1317.8 570.3 L1324.8 570.3 L1332.1 570.2 L1339.6 570.1 L1347.5 570.1 L1355.7 570.0 L1364.2 570.0 L1373.1 569.9 L1382.3 569.9 L1392.0 569.8 L1394.0 569.8 L1396.1 569.8 L1398.3 569.8 L1400.6 569.8 L1403.0 569.7 L1405.5 569.7 L1408.0 569.7 L1410.6 569.7 L1413.4 569.7 L1416.2 569.7 L1419.1 569.7 L1422.1 569.7 L1425.1 569.6 L1428.3 569.6 L1431.5 569.6 L1434.8 569.6 L1438.2 569.6 L1441.7 569.6 L1445.2 569.6 L1448.8 569.6 L1452.5 569.5 L1456.3 569.5 L1460.2 569.5 L1464.1 569.5 L1468.1 569.5 L1472.2 569.5 L1476.3 569.5 L1480.6 569.4 L1484.9 569.4 L1489.2 569.4 L1493.7 569.4 L1498.2 569.4 L1502.8 569.4 L1507.4 569.3 L1512.1 569.3 L1516.9 569.3 L1521.7 569.3 L1526.7 569.3 L1531.6 569.3 L1536.7 569.3 L1541.8 569.2 L1546.9 569.2 L1552.2 569.2 L1557.5 569.2 L1562.8 569.2 L1568.2 569.2 L1573.7 569.1 L1579.2 569.1 L1584.8 569.1 L1590.4 569.1 L1596.1 569.1 L1601.9 569.0 L1607.7 569.0 L1613.5 569.0 L1619.5 569.0 L1625.4 569.0 L1631.4 569.0 L1637.5 568.9 L1643.6 568.9 L1649.8 568.9 L1656.0 568.9 L1662.3 568.9 L1668.6 568.8 L1674.9 568.8 L1681.4 568.8 L1687.8 568.8 L1694.3 568.8 L1700.8 568.7 L1707.4 568.7 L1714.0 568.7 L1720.7 568.7 L1727.4 568.7 L1734.2 568.6 L1740.9 568.6 L1747.8 568.6 L1754.6 568.6 L1761.5 568.6 L1768.5 568.5 L1775.4 568.5 L1782.4 568.5 L1789.5 568.5 L1796.6 568.5 L1803.7 568.4 L1810.8 568.4 L1818.0 568.4 L1825.2 568.4 L1832.4 568.4 L1839.7 568.3 L1847.0 568.3 L1854.3 568.3 L1861.7 568.3 L1869.0 568.3 L1876.4 568.2 L1883.9 568.2 L1891.3 568.2 L1898.8 568.2 L1906.3 568.1 L1913.8 568.1 L1921.3 568.1 L1928.9 568.1 L1936.5 568.1 L1944.1 568.0 L1951.7 568.0 L1959.3 568.0 L1967.0 568.0 L1974.7 567.9 L1982.4 567.9 L1990.1 567.9 L1997.8 567.9 L2005.5 567.8 L2013.3 567.8 L2021.0 567.8 L2028.8 567.8 L2036.6 567.8 L2044.3 567.7 L2052.1 567.7 L2059.9 567.7 L2067.8 567.7 L2075.6 567.6 L2083.4 567.6 L2091.2 567.6 L2099.1 567.6 L2106.9 567.5 L2114.8 567.5 L2122.6 567.5 L2130.5 567.5 L2138.3 567.4 L2146.2 567.4 L2154.0 567.4 L2161.9 567.4 L2169.8 567.3 L2177.6 567.3 L2185.5 567.3 L2193.3 567.3 L2201.1 567.2 L2209.0 567.2 L2216.8 567.2" fill="none" stroke="#e8005f" stroke-width="2.6" stroke-linejoin="round"/></g>
<rect x="238.0" y="1303.9" width="45.8" height="45.8" fill="url(#gr)" stroke="#ee0000" stroke-width="4.7"/>
<rect x="238.1" y="650.7" width="45.8" height="45.8" fill="url(#gr)" stroke="#ee0000" stroke-width="4.7"/>
<rect x="240.1" y="614.1" width="45.8" height="45.8" fill="url(#gr)" stroke="#ee0000" stroke-width="4.7"/>
<rect x="242.5" y="602.2" width="45.8" height="45.8" fill="url(#gr)" stroke="#ee0000" stroke-width="4.7"/>
<rect x="250.1" y="566.4" width="45.8" height="45.8" fill="url(#gr)" stroke="#ee0000" stroke-width="4.7"/>
<rect x="262.4" y="571.7" width="45.8" height="45.8" fill="url(#gr)" stroke="#ee0000" stroke-width="4.7"/>
<rect x="271.5" y="549.5" width="45.8" height="45.8" fill="url(#gr)" stroke="#ee0000" stroke-width="4.7"/>
<rect x="295.9" y="568.8" width="45.8" height="45.8" fill="url(#gr)" stroke="#ee0000" stroke-width="4.7"/>
<rect x="520.2" y="534.9" width="45.8" height="45.8" fill="url(#gr)" stroke="#ee0000" stroke-width="4.7"/>
<rect x="802.7" y="547.3" width="45.8" height="45.8" fill="url(#gr)" stroke="#ee0000" stroke-width="4.7"/>
<rect x="1086.5" y="549.6" width="45.8" height="45.8" fill="url(#gr)" stroke="#ee0000" stroke-width="4.7"/>
<rect x="1368.8" y="547.4" width="45.8" height="45.8" fill="url(#gr)" stroke="#ee0000" stroke-width="4.7"/>
<rect x="2193.6" y="544.8" width="45.8" height="45.8" fill="url(#gr)" stroke="#ee0000" stroke-width="4.7"/>
</g>
<g id="s2">
<g clip-path="url(#cl)"><path d="M261.2 1326.3 L261.2 1318.5 L261.2 1310.7 L261.2 1302.8 L261.2 1295.0 L261.2 1287.2 L261.2 1279.3 L261.1 1271.4 L261.1 1263.6 L261.1 1255.7 L261.1 1247.9 L261.0 1240.0 L261.0 1232.2 L261.0 1224.3 L260.9 1216.5 L260.9 1208.6 L260.9 1200.8 L260.8 1193.0 L260.8 1185.1 L260.8 1177.3 L260.7 1169.5 L260.7 1161.8 L260.6 1154.0 L260.6 1146.3 L260.5 1138.5 L260.5 1130.8 L260.4 1123.1 L260.4 1115.5 L260.3 1107.8 L260.3 1100.2 L260.2 1092.6 L260.2 1085.1 L260.1 1077.5 L260.0 1070.0 L260.0 1062.5 L259.9 1055.1 L259.9 1047.7 L259.8 1040.3 L259.8 1033.0 L259.7 1025.7 L259.7 1018.4 L259.6 1011.2 L259.6 1004.0 L259.5 996.9 L259.5 989.8 L259.4 982.7 L259.4 975.7 L259.3 968.8 L259.3 961.9 L259.2 955.0 L259.2 948.2 L259.1 941.4 L259.1 934.7 L259.0 928.1 L259.0 921.5 L259.0 915.0 L258.9 908.5 L258.9 902.1 L258.8 895.8 L258.8 889.5 L258.8 883.3 L258.8 877.1 L258.7 871.1 L258.7 865.0 L258.7 859.1 L258.7 853.2 L258.7 847.4 L258.7 841.7 L258.6 836.1 L258.6 830.5 L258.6 825.0 L258.6 819.6 L258.6 814.2 L258.6 809.0 L258.7 803.8 L258.7 798.7 L258.7 793.7 L258.7 788.8 L258.7 784.0 L258.8 779.2 L258.8 774.6 L258.8 770.0 L258.9 765.6 L258.9 761.2 L259.0 756.9 L259.0 752.8 L259.1 748.7 L259.1 744.7 L259.2 740.8 L259.3 737.1 L259.4 733.4 L259.4 729.8 L259.5 726.4 L259.6 723.0 L259.7 719.8 L259.8 716.7 L259.9 713.7 L260.0 710.7 L260.1 708.0 L260.3 705.3 L260.4 702.7 L260.5 700.3 L260.7 698.0 L260.8 695.8 L261.0 693.7 L261.1 691.7 L261.3 689.9 L261.8 685.7 L262.3 683.8 L262.8 682.4 L263.3 679.5 L263.9 671.3 L264.1 662.2 L264.5 654.7 L265.7 651.5 L267.0 654.7 L268.2 662.3 L270.0 670.4 L273.3 675.3 L276.3 675.9 L279.3 675.1 L282.3 673.3 L285.6 670.8 L288.4 667.3 L290.0 663.3 L291.8 659.4 L295.3 656.1 L300.0 654.2 L304.2 654.1 L309.9 654.4 L319.1 653.8 L323.0 653.3 L327.1 652.6 L331.2 652.0 L335.5 651.3 L339.9 650.5 L344.4 649.7 L349.0 648.9 L353.7 648.0 L358.6 647.1 L363.6 646.1 L368.6 645.1 L373.8 644.1 L379.1 643.0 L384.6 641.9 L390.1 640.8 L395.8 639.7 L401.6 638.5 L407.5 637.4 L413.5 636.2 L419.7 635.0 L426.0 633.8 L432.4 632.6 L438.9 631.4 L445.5 630.2 L452.3 628.9 L459.2 627.7 L466.2 626.5 L473.4 625.3 L480.6 624.1 L488.0 623.0 L495.6 621.8 L503.2 620.7 L511.0 619.5 L518.9 618.4 L526.9 617.4 L535.1 616.3 L543.4 615.3 L550.6 614.4 L557.7 613.6 L564.6 612.8 L571.3 612.0 L577.9 611.2 L584.3 610.4 L590.6 609.7 L596.8 609.0 L602.8 608.3 L608.7 607.7 L614.5 607.0 L620.3 606.4 L625.9 605.8 L631.4 605.2 L636.9 604.6 L642.3 604.1 L647.7 603.6 L653.0 603.1 L658.3 602.6 L663.5 602.1 L668.8 601.7 L674.0 601.3 L679.2 600.9 L684.4 600.5 L689.7 600.1 L694.9 599.8 L700.2 599.4 L705.6 599.1 L710.9 598.8 L716.4 598.5 L721.9 598.2 L727.5 598.0 L733.1 597.8 L738.9 597.5 L744.7 597.3 L750.7 597.1 L756.8 597.0 L763.0 596.8 L769.3 596.7 L775.8 596.5 L782.4 596.4 L789.2 596.3 L796.2 596.2 L803.3 596.2 L810.7 596.1 L818.2 596.0 L825.9 596.0 L833.6 596.0 L841.1 596.0 L848.4 596.1 L855.5 596.3 L862.4 596.5 L869.2 596.7 L875.7 597.0 L882.1 597.3 L888.3 597.6 L894.4 598.0 L900.4 598.4 L906.2 598.9 L912.0 599.3 L917.6 599.8 L923.1 600.3 L928.6 600.9 L934.0 601.4 L939.3 602.0 L944.6 602.5 L949.8 603.1 L955.0 603.7 L960.1 604.3 L965.3 604.8 L970.4 605.4 L975.5 606.0 L980.7 606.6 L985.9 607.2 L991.1 607.7 L996.4 608.3 L1001.7 608.8 L1007.1 609.3 L1012.5 609.8 L1018.0 610.3 L1023.7 610.7 L1029.4 611.1 L1035.2 611.5 L1041.2 611.9 L1047.3 612.2 L1053.5 612.5 L1059.9 612.7 L1066.5 612.9 L1073.2 613.1 L1080.1 613.2 L1087.2 613.2 L1094.5 613.2 L1102.0 613.2 L1109.7 613.1 L1117.4 612.9 L1124.7 612.8 L1131.8 612.5 L1138.6 612.3 L1145.2 611.9 L1151.5 611.6 L1157.5 611.2 L1163.4 610.8 L1169.1 610.4 L1174.6 609.9 L1179.9 609.4 L1185.1 608.9 L1190.1 608.4 L1195.0 607.8 L1199.9 607.2 L1204.6 606.6 L1209.2 606.0 L1213.9 605.4 L1218.4 604.7 L1223.0 604.1 L1227.5 603.4 L1232.0 602.7 L1236.6 602.0 L1241.1 601.3 L1245.8 600.6 L1250.5 599.9 L1255.3 599.2 L1260.2 598.5 L1265.2 597.7 L1270.3 597.0 L1275.6 596.3 L1281.0 595.6 L1286.6 594.9 L1292.4 594.2 L1298.4 593.5 L1304.6 592.8 L1311.1 592.2 L1317.8 591.5 L1324.7 590.9 L1332.0 590.3 L1339.6 589.7 L1347.4 589.1 L1355.6 588.5 L1364.2 588.0 L1373.1 587.5 L1382.3 587.0 L1392.0 586.5 L1394.0 586.4 L1396.1 586.3 L1398.3 586.2 L1400.6 586.2 L1403.0 586.1 L1405.4 586.0 L1408.0 585.9 L1410.6 585.9 L1413.4 585.8 L1416.2 585.7 L1419.1 585.7 L1422.0 585.6 L1425.1 585.6 L1428.2 585.5 L1431.5 585.5 L1434.8 585.4 L1438.2 585.4 L1441.6 585.3 L1445.2 585.3 L1448.8 585.3 L1452.5 585.2 L1456.3 585.2 L1460.1 585.2 L1464.1 585.1 L1468.1 585.1 L1472.2 585.1 L1476.3 585.1 L1480.5 585.1 L1484.8 585.0 L1489.2 585.0 L1493.6 585.0 L1498.1 585.0 L1502.7 585.0 L1507.4 585.0 L1512.1 585.0 L1516.9 585.0 L1521.7 585.0 L1526.6 585.0 L1531.6 585.0 L1536.6 585.0 L1541.7 585.0 L1546.9 585.0 L1552.1 585.0 L1557.4 585.0 L1562.8 585.0 L1568.2 585.1 L1573.6 585.1 L1579.2 585.1 L1584.8 585.1 L1590.4 585.1 L1596.1 585.2 L1601.8 585.2 L1607.6 585.2 L1613.5 585.2 L1619.4 585.3 L1625.4 585.3 L1631.4 585.3 L1637.5 585.3 L1643.6 585.4 L1649.8 585.4 L1656.0 585.4 L1662.2 585.5 L1668.6 585.5 L1674.9 585.6 L1681.3 585.6 L1687.8 585.6 L1694.3 585.7 L1700.8 585.7 L1707.4 585.8 L1714.0 585.8 L1720.7 585.8 L1727.4 585.9 L1734.1 585.9 L1740.9 586.0 L1747.7 586.0 L1754.6 586.1 L1761.5 586.1 L1768.4 586.2 L1775.4 586.2 L1782.4 586.3 L1789.5 586.3 L1796.5 586.4 L1803.7 586.4 L1810.8 586.5 L1818.0 586.5 L1825.2 586.6 L1832.4 586.6 L1839.7 586.7 L1847.0 586.7 L1854.3 586.8 L1861.6 586.8 L1869.0 586.9 L1876.4 586.9 L1883.8 587.0 L1891.3 587.0 L1898.8 587.1 L1906.3 587.1 L1913.8 587.2 L1921.3 587.3 L1928.9 587.3 L1936.5 587.4 L1944.1 587.4 L1951.7 587.5 L1959.3 587.5 L1967.0 587.6 L1974.7 587.6 L1982.3 587.7 L1990.0 587.7 L1997.8 587.8 L2005.5 587.8 L2013.2 587.9 L2021.0 587.9 L2028.8 587.9 L2036.5 588.0 L2044.3 588.0 L2052.1 588.1 L2059.9 588.1 L2067.8 588.2 L2075.6 588.2 L2083.4 588.3 L2091.2 588.3 L2099.1 588.3 L2106.9 588.4 L2114.8 588.4 L2122.6 588.4 L2130.5 588.5 L2138.3 588.5 L2146.2 588.6 L2154.0 588.6 L2161.9 588.6 L2169.8 588.6 L2177.6 588.7 L2185.5 588.7 L2193.3 588.7 L2201.1 588.8 L2209.0 588.8 L2216.8 588.8" fill="none" stroke="#00d85a" stroke-width="9.8" stroke-linejoin="round" stroke-opacity="0.34"/>
<path d="M257.5 1326.3 L257.5 1318.5 L257.5 1310.7 L257.5 1302.8 L257.5 1295.0 L257.5 1287.2 L257.5 1279.3 L257.4 1271.5 L257.4 1263.6 L257.4 1255.7 L257.4 1247.9 L257.3 1240.0 L257.3 1232.2 L257.3 1224.3 L257.2 1216.5 L257.2 1208.6 L257.2 1200.8 L257.1 1193.0 L257.1 1185.2 L257.1 1177.4 L257.0 1169.6 L257.0 1161.8 L256.9 1154.0 L256.9 1146.3 L256.8 1138.6 L256.8 1130.8 L256.7 1123.2 L256.7 1115.5 L256.6 1107.9 L256.6 1100.2 L256.5 1092.6 L256.5 1085.1 L256.4 1077.5 L256.3 1070.0 L256.3 1062.6 L256.2 1055.1 L256.2 1047.7 L256.1 1040.3 L256.1 1033.0 L256.0 1025.7 L256.0 1018.4 L255.9 1011.2 L255.9 1004.0 L255.8 996.9 L255.8 989.8 L255.7 982.7 L255.7 975.7 L255.6 968.8 L255.6 961.9 L255.5 955.0 L255.5 948.2 L255.4 941.5 L255.4 934.8 L255.3 928.1 L255.3 921.5 L255.3 915.0 L255.2 908.6 L255.2 902.1 L255.1 895.8 L255.1 889.5 L255.1 883.3 L255.1 877.2 L255.0 871.1 L255.0 865.1 L255.0 859.1 L255.0 853.2 L255.0 847.4 L255.0 841.7 L254.9 836.1 L254.9 830.5 L254.9 825.0 L254.9 819.6 L254.9 814.2 L254.9 809.0 L255.0 803.8 L255.0 798.7 L255.0 793.7 L255.0 788.8 L255.0 784.0 L255.1 779.2 L255.1 774.6 L255.1 770.0 L255.2 765.5 L255.2 761.2 L255.3 756.9 L255.3 752.7 L255.4 748.6 L255.4 744.7 L255.5 740.8 L255.6 737.0 L255.7 733.3 L255.7 729.8 L255.8 726.3 L255.9 722.9 L256.0 719.7 L256.1 716.5 L256.2 713.5 L256.3 710.6 L256.5 707.8 L256.6 705.1 L256.7 702.5 L256.8 700.1 L257.0 697.7 L257.1 695.5 L257.3 693.4 L257.4 691.4 L257.6 689.5 L258.2 685.1 L258.7 682.8 L259.2 681.5 L259.6 679.1 L260.2 671.1 L260.4 662.0 L260.9 654.2 L265.7 647.8 L270.6 653.9 L271.8 661.6 L273.5 669.0 L275.8 672.5 L276.2 672.2 L277.8 671.8 L280.2 670.3 L283.0 668.2 L285.3 665.4 L286.6 661.9 L288.9 657.2 L293.3 653.0 L299.1 650.5 L304.3 650.4 L309.8 650.7 L318.8 650.1 L322.5 649.6 L326.5 649.0 L330.6 648.3 L334.9 647.6 L339.3 646.9 L343.7 646.1 L348.3 645.2 L353.1 644.3 L357.9 643.4 L362.8 642.5 L367.9 641.5 L373.1 640.4 L378.4 639.4 L383.9 638.3 L389.4 637.2 L395.1 636.1 L400.9 634.9 L406.8 633.7 L412.8 632.6 L419.0 631.4 L425.3 630.2 L431.7 628.9 L438.2 627.7 L444.9 626.5 L451.7 625.3 L458.6 624.1 L465.6 622.9 L472.8 621.7 L480.1 620.5 L487.5 619.3 L495.0 618.1 L502.7 617.0 L510.5 615.9 L518.4 614.8 L526.5 613.7 L534.6 612.6 L543.0 611.6 L550.2 610.8 L557.3 609.9 L564.2 609.1 L570.9 608.3 L577.5 607.5 L583.9 606.8 L590.2 606.0 L596.4 605.3 L602.4 604.6 L608.3 604.0 L614.1 603.3 L619.9 602.7 L625.5 602.1 L631.1 601.5 L636.5 601.0 L642.0 600.4 L647.3 599.9 L652.7 599.4 L658.0 598.9 L663.2 598.5 L668.5 598.0 L673.7 597.6 L678.9 597.2 L684.2 596.8 L689.4 596.4 L694.7 596.1 L700.0 595.7 L705.4 595.4 L710.7 595.1 L716.2 594.8 L721.7 594.6 L727.3 594.3 L733.0 594.1 L738.8 593.8 L744.6 593.6 L750.6 593.4 L756.7 593.3 L762.9 593.1 L769.3 593.0 L775.7 592.8 L782.4 592.7 L789.2 592.6 L796.2 592.5 L803.3 592.5 L810.6 592.4 L818.2 592.3 L825.9 592.3 L833.6 592.3 L841.2 592.3 L848.5 592.4 L855.6 592.6 L862.5 592.8 L869.3 593.0 L875.9 593.3 L882.3 593.6 L888.6 593.9 L894.7 594.3 L900.7 594.7 L906.5 595.2 L912.3 595.6 L917.9 596.1 L923.5 596.6 L929.0 597.2 L934.4 597.7 L939.7 598.3 L945.0 598.8 L950.2 599.4 L955.4 600.0 L960.5 600.6 L965.7 601.2 L970.8 601.8 L976.0 602.3 L981.1 602.9 L986.3 603.5 L991.5 604.0 L996.7 604.6 L1002.0 605.1 L1007.4 605.6 L1012.8 606.1 L1018.3 606.6 L1023.9 607.0 L1029.7 607.4 L1035.5 607.8 L1041.4 608.2 L1047.5 608.5 L1053.7 608.8 L1060.1 609.0 L1066.6 609.2 L1073.3 609.4 L1080.1 609.5 L1087.2 609.5 L1094.5 609.5 L1101.9 609.5 L1109.6 609.4 L1117.3 609.2 L1124.6 609.1 L1131.7 608.8 L1138.4 608.6 L1145.0 608.3 L1151.2 607.9 L1157.3 607.5 L1163.1 607.1 L1168.8 606.7 L1174.2 606.2 L1179.5 605.8 L1184.7 605.3 L1189.7 604.7 L1194.6 604.2 L1199.4 603.6 L1204.1 603.0 L1208.7 602.4 L1213.3 601.7 L1217.9 601.1 L1222.4 600.4 L1226.9 599.7 L1231.5 599.1 L1236.0 598.4 L1240.6 597.7 L1245.2 596.9 L1249.9 596.2 L1254.7 595.5 L1259.6 594.8 L1264.6 594.1 L1269.8 593.4 L1275.1 592.6 L1280.5 591.9 L1286.1 591.2 L1292.0 590.5 L1298.0 589.8 L1304.2 589.2 L1310.7 588.5 L1317.4 587.8 L1324.4 587.2 L1331.7 586.6 L1339.3 586.0 L1347.2 585.4 L1355.4 584.8 L1363.9 584.3 L1372.9 583.8 L1382.1 583.3 L1391.8 582.8 L1393.9 582.7 L1396.0 582.6 L1398.2 582.5 L1400.5 582.5 L1402.9 582.4 L1405.3 582.3 L1407.9 582.2 L1410.5 582.2 L1413.3 582.1 L1416.1 582.0 L1419.0 582.0 L1422.0 581.9 L1425.0 581.9 L1428.2 581.8 L1431.4 581.8 L1434.7 581.7 L1438.1 581.7 L1441.6 581.6 L1445.1 581.6 L1448.8 581.6 L1452.5 581.5 L1456.3 581.5 L1460.1 581.5 L1464.0 581.4 L1468.1 581.4 L1472.1 581.4 L1476.3 581.4 L1480.5 581.4 L1484.8 581.3 L1489.2 581.3 L1493.6 581.3 L1498.1 581.3 L1502.7 581.3 L1507.4 581.3 L1512.1 581.3 L1516.9 581.3 L1521.7 581.3 L1526.6 581.3 L1531.6 581.3 L1536.6 581.3 L1541.7 581.3 L1546.9 581.3 L1552.1 581.3 L1557.4 581.3 L1562.8 581.3 L1568.2 581.4 L1573.7 581.4 L1579.2 581.4 L1584.8 581.4 L1590.4 581.4 L1596.1 581.5 L1601.9 581.5 L1607.7 581.5 L1613.5 581.5 L1619.4 581.6 L1625.4 581.6 L1631.4 581.6 L1637.5 581.6 L1643.6 581.7 L1649.8 581.7 L1656.0 581.7 L1662.3 581.8 L1668.6 581.8 L1674.9 581.9 L1681.3 581.9 L1687.8 581.9 L1694.3 582.0 L1700.8 582.0 L1707.4 582.1 L1714.0 582.1 L1720.7 582.1 L1727.4 582.2 L1734.2 582.2 L1740.9 582.3 L1747.8 582.3 L1754.6 582.4 L1761.5 582.4 L1768.5 582.5 L1775.4 582.5 L1782.4 582.6 L1789.5 582.6 L1796.6 582.7 L1803.7 582.7 L1810.8 582.8 L1818.0 582.8 L1825.2 582.9 L1832.4 582.9 L1839.7 583.0 L1847.0 583.0 L1854.3 583.1 L1861.7 583.1 L1869.0 583.2 L1876.4 583.2 L1883.9 583.3 L1891.3 583.3 L1898.8 583.4 L1906.3 583.4 L1913.8 583.5 L1921.3 583.6 L1928.9 583.6 L1936.5 583.7 L1944.1 583.7 L1951.7 583.8 L1959.4 583.8 L1967.0 583.9 L1974.7 583.9 L1982.4 584.0 L1990.1 584.0 L1997.8 584.1 L2005.5 584.1 L2013.3 584.2 L2021.0 584.2 L2028.8 584.2 L2036.6 584.3 L2044.4 584.3 L2052.2 584.4 L2060.0 584.4 L2067.8 584.5 L2075.6 584.5 L2083.4 584.6 L2091.3 584.6 L2099.1 584.6 L2106.9 584.7 L2114.8 584.7 L2122.6 584.7 L2130.5 584.8 L2138.3 584.8 L2146.2 584.9 L2154.1 584.9 L2161.9 584.9 L2169.8 584.9 L2177.6 585.0 L2185.5 585.0 L2193.3 585.0 L2201.1 585.1 L2209.0 585.1 L2216.8 585.1" fill="none" stroke="#21dc78" stroke-width="2.2" stroke-linejoin="round" stroke-opacity="0.75"/>
<path d="M264.9 1326.3 L264.9 1318.5 L264.9 1310.7 L264.9 1302.8 L264.9 1295.0 L264.9 1287.1 L264.9 1279.3 L264.8 1271.4 L264.8 1263.6 L264.8 1255.7 L264.8 1247.9 L264.7 1240.0 L264.7 1232.1 L264.7 1224.3 L264.6 1216.4 L264.6 1208.6 L264.6 1200.8 L264.5 1192.9 L264.5 1185.1 L264.5 1177.3 L264.4 1169.5 L264.4 1161.7 L264.3 1154.0 L264.3 1146.2 L264.2 1138.5 L264.2 1130.8 L264.1 1123.1 L264.1 1115.4 L264.0 1107.8 L264.0 1100.2 L263.9 1092.6 L263.9 1085.0 L263.8 1077.5 L263.7 1070.0 L263.7 1062.5 L263.6 1055.1 L263.6 1047.7 L263.5 1040.3 L263.5 1032.9 L263.4 1025.6 L263.4 1018.4 L263.3 1011.2 L263.3 1004.0 L263.2 996.8 L263.2 989.7 L263.1 982.7 L263.1 975.7 L263.0 968.7 L263.0 961.8 L262.9 955.0 L262.9 948.2 L262.8 941.4 L262.8 934.7 L262.7 928.1 L262.7 921.5 L262.7 915.0 L262.6 908.5 L262.6 902.1 L262.5 895.8 L262.5 889.5 L262.5 883.3 L262.5 877.1 L262.4 871.0 L262.4 865.0 L262.4 859.1 L262.4 853.2 L262.4 847.4 L262.4 841.7 L262.3 836.1 L262.3 830.5 L262.3 825.0 L262.3 819.6 L262.3 814.2 L262.3 809.0 L262.4 803.8 L262.4 798.7 L262.4 793.7 L262.4 788.8 L262.4 784.0 L262.5 779.3 L262.5 774.6 L262.5 770.1 L262.6 765.6 L262.6 761.3 L262.7 757.0 L262.7 752.8 L262.8 748.7 L262.8 744.8 L262.9 740.9 L263.0 737.1 L263.1 733.5 L263.1 729.9 L263.2 726.5 L263.3 723.1 L263.4 719.9 L263.5 716.8 L263.6 713.8 L263.7 710.9 L263.8 708.1 L264.0 705.5 L264.1 702.9 L264.2 700.5 L264.4 698.2 L264.5 696.0 L264.7 694.0 L264.8 692.0 L265.0 690.3 L265.5 686.3 L265.9 684.8 L266.4 683.2 L267.0 679.9 L267.6 671.5 L267.8 662.3 L268.2 655.2 L265.7 655.2 L263.4 655.6 L264.6 663.0 L266.6 671.7 L270.8 678.1 L276.4 679.6 L280.8 678.5 L284.4 676.3 L288.2 673.4 L291.6 669.2 L293.4 664.8 L294.8 661.6 L297.3 659.2 L300.8 657.8 L304.1 657.8 L309.9 658.1 L319.4 657.5 L323.6 656.9 L327.6 656.3 L331.8 655.6 L336.1 654.9 L340.5 654.2 L345.1 653.4 L349.7 652.5 L354.4 651.6 L359.3 650.7 L364.3 649.7 L369.3 648.7 L374.6 647.7 L379.9 646.6 L385.3 645.5 L390.9 644.4 L396.5 643.3 L402.3 642.2 L408.2 641.0 L414.2 639.8 L420.4 638.6 L426.7 637.4 L433.1 636.2 L439.6 635.0 L446.2 633.8 L453.0 632.6 L459.8 631.4 L466.8 630.2 L474.0 629.0 L481.2 627.8 L488.6 626.6 L496.1 625.5 L503.7 624.3 L511.5 623.2 L519.4 622.1 L527.4 621.0 L535.6 620.0 L543.8 619.0 L551.1 618.1 L558.2 617.3 L565.0 616.4 L571.8 615.6 L578.3 614.9 L584.8 614.1 L591.0 613.4 L597.2 612.7 L603.2 612.0 L609.1 611.3 L614.9 610.7 L620.7 610.1 L626.3 609.5 L631.8 608.9 L637.3 608.3 L642.7 607.8 L648.0 607.3 L653.3 606.8 L658.6 606.3 L663.9 605.8 L669.1 605.4 L674.3 605.0 L679.5 604.6 L684.7 604.2 L689.9 603.8 L695.2 603.4 L700.5 603.1 L705.8 602.8 L711.1 602.5 L716.6 602.2 L722.1 601.9 L727.6 601.7 L733.3 601.5 L739.0 601.2 L744.9 601.0 L750.8 600.8 L756.9 600.7 L763.1 600.5 L769.4 600.4 L775.9 600.2 L782.5 600.1 L789.3 600.0 L796.2 599.9 L803.4 599.9 L810.7 599.8 L818.2 599.7 L825.9 599.7 L833.6 599.7 L841.1 599.7 L848.4 599.8 L855.4 600.0 L862.3 600.2 L869.0 600.4 L875.5 600.7 L881.9 601.0 L888.1 601.3 L894.2 601.7 L900.1 602.1 L906.0 602.6 L911.7 603.0 L917.3 603.5 L922.8 604.0 L928.2 604.5 L933.6 605.1 L938.9 605.6 L944.2 606.2 L949.4 606.8 L954.5 607.4 L959.7 607.9 L964.8 608.5 L970.0 609.1 L975.1 609.7 L980.3 610.3 L985.5 610.8 L990.7 611.4 L996.0 612.0 L1001.3 612.5 L1006.7 613.0 L1012.2 613.5 L1017.7 614.0 L1023.4 614.4 L1029.1 614.8 L1035.0 615.2 L1041.0 615.6 L1047.1 615.9 L1053.4 616.2 L1059.8 616.4 L1066.4 616.6 L1073.1 616.8 L1080.1 616.9 L1087.2 616.9 L1094.5 616.9 L1102.0 616.9 L1109.8 616.8 L1117.5 616.6 L1124.8 616.5 L1131.9 616.2 L1138.8 615.9 L1145.3 615.6 L1151.7 615.3 L1157.8 614.9 L1163.7 614.5 L1169.4 614.1 L1174.9 613.6 L1180.2 613.1 L1185.4 612.6 L1190.5 612.1 L1195.5 611.5 L1200.3 610.9 L1205.1 610.3 L1209.7 609.7 L1214.4 609.1 L1218.9 608.4 L1223.5 607.7 L1228.0 607.1 L1232.6 606.4 L1237.1 605.7 L1241.7 605.0 L1246.3 604.3 L1251.0 603.6 L1255.8 602.8 L1260.7 602.1 L1265.7 601.4 L1270.8 600.7 L1276.0 600.0 L1281.5 599.3 L1287.0 598.6 L1292.8 597.9 L1298.8 597.2 L1305.0 596.5 L1311.4 595.8 L1318.1 595.2 L1325.1 594.6 L1332.3 593.9 L1339.8 593.3 L1347.7 592.8 L1355.9 592.2 L1364.4 591.7 L1373.3 591.1 L1382.5 590.7 L1392.2 590.2 L1394.2 590.1 L1396.3 590.0 L1398.5 589.9 L1400.7 589.9 L1403.1 589.8 L1405.5 589.7 L1408.1 589.6 L1410.7 589.6 L1413.4 589.5 L1416.2 589.4 L1419.1 589.4 L1422.1 589.3 L1425.2 589.3 L1428.3 589.2 L1431.5 589.2 L1434.8 589.1 L1438.2 589.1 L1441.7 589.0 L1445.2 589.0 L1448.8 589.0 L1452.5 588.9 L1456.3 588.9 L1460.2 588.9 L1464.1 588.8 L1468.1 588.8 L1472.2 588.8 L1476.3 588.8 L1480.6 588.8 L1484.8 588.7 L1489.2 588.7 L1493.6 588.7 L1498.2 588.7 L1502.7 588.7 L1507.4 588.7 L1512.1 588.7 L1516.9 588.7 L1521.7 588.7 L1526.6 588.7 L1531.6 588.7 L1536.6 588.7 L1541.7 588.7 L1546.9 588.7 L1552.1 588.7 L1557.4 588.7 L1562.8 588.7 L1568.2 588.8 L1573.6 588.8 L1579.2 588.8 L1584.7 588.8 L1590.4 588.8 L1596.1 588.9 L1601.8 588.9 L1607.6 588.9 L1613.5 588.9 L1619.4 589.0 L1625.4 589.0 L1631.4 589.0 L1637.5 589.0 L1643.6 589.1 L1649.7 589.1 L1656.0 589.1 L1662.2 589.2 L1668.5 589.2 L1674.9 589.3 L1681.3 589.3 L1687.7 589.3 L1694.2 589.4 L1700.8 589.4 L1707.4 589.5 L1714.0 589.5 L1720.6 589.5 L1727.4 589.6 L1734.1 589.6 L1740.9 589.7 L1747.7 589.7 L1754.6 589.8 L1761.5 589.8 L1768.4 589.9 L1775.4 589.9 L1782.4 590.0 L1789.4 590.0 L1796.5 590.1 L1803.6 590.1 L1810.8 590.2 L1817.9 590.2 L1825.1 590.3 L1832.4 590.3 L1839.6 590.4 L1846.9 590.4 L1854.3 590.5 L1861.6 590.5 L1869.0 590.6 L1876.4 590.6 L1883.8 590.7 L1891.3 590.7 L1898.7 590.8 L1906.2 590.8 L1913.8 590.9 L1921.3 591.0 L1928.9 591.0 L1936.4 591.1 L1944.0 591.1 L1951.7 591.2 L1959.3 591.2 L1967.0 591.3 L1974.6 591.3 L1982.3 591.4 L1990.0 591.4 L1997.7 591.5 L2005.5 591.5 L2013.2 591.6 L2021.0 591.6 L2028.7 591.6 L2036.5 591.7 L2044.3 591.7 L2052.1 591.8 L2059.9 591.8 L2067.7 591.9 L2075.6 591.9 L2083.4 592.0 L2091.2 592.0 L2099.1 592.0 L2106.9 592.1 L2114.8 592.1 L2122.6 592.1 L2130.5 592.2 L2138.3 592.2 L2146.2 592.3 L2154.0 592.3 L2161.9 592.3 L2169.7 592.3 L2177.6 592.4 L2185.4 592.4 L2193.3 592.4 L2201.1 592.5 L2209.0 592.5 L2216.8 592.5" fill="none" stroke="#21dc78" stroke-width="2.2" stroke-linejoin="round" stroke-opacity="0.75"/>
<path d="M261.2 1326.3 L261.2 1318.5 L261.2 1310.7 L261.2 1302.8 L261.2 1295.0 L261.2 1287.2 L261.2 1279.3 L261.1 1271.4 L261.1 1263.6 L261.1 1255.7 L261.1 1247.9 L261.0 1240.0 L261.0 1232.2 L261.0 1224.3 L260.9 1216.5 L260.9 1208.6 L260.9 1200.8 L260.8 1193.0 L260.8 1185.1 L260.8 1177.3 L260.7 1169.5 L260.7 1161.8 L260.6 1154.0 L260.6 1146.3 L260.5 1138.5 L260.5 1130.8 L260.4 1123.1 L260.4 1115.5 L260.3 1107.8 L260.3 1100.2 L260.2 1092.6 L260.2 1085.1 L260.1 1077.5 L260.0 1070.0 L260.0 1062.5 L259.9 1055.1 L259.9 1047.7 L259.8 1040.3 L259.8 1033.0 L259.7 1025.7 L259.7 1018.4 L259.6 1011.2 L259.6 1004.0 L259.5 996.9 L259.5 989.8 L259.4 982.7 L259.4 975.7 L259.3 968.8 L259.3 961.9 L259.2 955.0 L259.2 948.2 L259.1 941.4 L259.1 934.7 L259.0 928.1 L259.0 921.5 L259.0 915.0 L258.9 908.5 L258.9 902.1 L258.8 895.8 L258.8 889.5 L258.8 883.3 L258.8 877.1 L258.7 871.1 L258.7 865.0 L258.7 859.1 L258.7 853.2 L258.7 847.4 L258.7 841.7 L258.6 836.1 L258.6 830.5 L258.6 825.0 L258.6 819.6 L258.6 814.2 L258.6 809.0 L258.7 803.8 L258.7 798.7 L258.7 793.7 L258.7 788.8 L258.7 784.0 L258.8 779.2 L258.8 774.6 L258.8 770.0 L258.9 765.6 L258.9 761.2 L259.0 756.9 L259.0 752.8 L259.1 748.7 L259.1 744.7 L259.2 740.8 L259.3 737.1 L259.4 733.4 L259.4 729.8 L259.5 726.4 L259.6 723.0 L259.7 719.8 L259.8 716.7 L259.9 713.7 L260.0 710.7 L260.1 708.0 L260.3 705.3 L260.4 702.7 L260.5 700.3 L260.7 698.0 L260.8 695.8 L261.0 693.7 L261.1 691.7 L261.3 689.9 L261.8 685.7 L262.3 683.8 L262.8 682.4 L263.3 679.5 L263.9 671.3 L264.1 662.2 L264.5 654.7 L265.7 651.5 L267.0 654.7 L268.2 662.3 L270.0 670.4 L273.3 675.3 L276.3 675.9 L279.3 675.1 L282.3 673.3 L285.6 670.8 L288.4 667.3 L290.0 663.3 L291.8 659.4 L295.3 656.1 L300.0 654.2 L304.2 654.1 L309.9 654.4 L319.1 653.8 L323.0 653.3 L327.1 652.6 L331.2 652.0 L335.5 651.3 L339.9 650.5 L344.4 649.7 L349.0 648.9 L353.7 648.0 L358.6 647.1 L363.6 646.1 L368.6 645.1 L373.8 644.1 L379.1 643.0 L384.6 641.9 L390.1 640.8 L395.8 639.7 L401.6 638.5 L407.5 637.4 L413.5 636.2 L419.7 635.0 L426.0 633.8 L432.4 632.6 L438.9 631.4 L445.5 630.2 L452.3 628.9 L459.2 627.7 L466.2 626.5 L473.4 625.3 L480.6 624.1 L488.0 623.0 L495.6 621.8 L503.2 620.7 L511.0 619.5 L518.9 618.4 L526.9 617.4 L535.1 616.3 L543.4 615.3 L550.6 614.4 L557.7 613.6 L564.6 612.8 L571.3 612.0 L577.9 611.2 L584.3 610.4 L590.6 609.7 L596.8 609.0 L602.8 608.3 L608.7 607.7 L614.5 607.0 L620.3 606.4 L625.9 605.8 L631.4 605.2 L636.9 604.6 L642.3 604.1 L647.7 603.6 L653.0 603.1 L658.3 602.6 L663.5 602.1 L668.8 601.7 L674.0 601.3 L679.2 600.9 L684.4 600.5 L689.7 600.1 L694.9 599.8 L700.2 599.4 L705.6 599.1 L710.9 598.8 L716.4 598.5 L721.9 598.2 L727.5 598.0 L733.1 597.8 L738.9 597.5 L744.7 597.3 L750.7 597.1 L756.8 597.0 L763.0 596.8 L769.3 596.7 L775.8 596.5 L782.4 596.4 L789.2 596.3 L796.2 596.2 L803.3 596.2 L810.7 596.1 L818.2 596.0 L825.9 596.0 L833.6 596.0 L841.1 596.0 L848.4 596.1 L855.5 596.3 L862.4 596.5 L869.2 596.7 L875.7 597.0 L882.1 597.3 L888.3 597.6 L894.4 598.0 L900.4 598.4 L906.2 598.9 L912.0 599.3 L917.6 599.8 L923.1 600.3 L928.6 600.9 L934.0 601.4 L939.3 602.0 L944.6 602.5 L949.8 603.1 L955.0 603.7 L960.1 604.3 L965.3 604.8 L970.4 605.4 L975.5 606.0 L980.7 606.6 L985.9 607.2 L991.1 607.7 L996.4 608.3 L1001.7 608.8 L1007.1 609.3 L1012.5 609.8 L1018.0 610.3 L1023.7 610.7 L1029.4 611.1 L1035.2 611.5 L1041.2 611.9 L1047.3 612.2 L1053.5 612.5 L1059.9 612.7 L1066.5 612.9 L1073.2 613.1 L1080.1 613.2 L1087.2 613.2 L1094.5 613.2 L1102.0 613.2 L1109.7 613.1 L1117.4 612.9 L1124.7 612.8 L1131.8 612.5 L1138.6 612.3 L1145.2 611.9 L1151.5 611.6 L1157.5 611.2 L1163.4 610.8 L1169.1 610.4 L1174.6 609.9 L1179.9 609.4 L1185.1 608.9 L1190.1 608.4 L1195.0 607.8 L1199.9 607.2 L1204.6 606.6 L1209.2 606.0 L1213.9 605.4 L1218.4 604.7 L1223.0 604.1 L1227.5 603.4 L1232.0 602.7 L1236.6 602.0 L1241.1 601.3 L1245.8 600.6 L1250.5 599.9 L1255.3 599.2 L1260.2 598.5 L1265.2 597.7 L1270.3 597.0 L1275.6 596.3 L1281.0 595.6 L1286.6 594.9 L1292.4 594.2 L1298.4 593.5 L1304.6 592.8 L1311.1 592.2 L1317.8 591.5 L1324.7 590.9 L1332.0 590.3 L1339.6 589.7 L1347.4 589.1 L1355.6 588.5 L1364.2 588.0 L1373.1 587.5 L1382.3 587.0 L1392.0 586.5 L1394.0 586.4 L1396.1 586.3 L1398.3 586.2 L1400.6 586.2 L1403.0 586.1 L1405.4 586.0 L1408.0 585.9 L1410.6 585.9 L1413.4 585.8 L1416.2 585.7 L1419.1 585.7 L1422.0 585.6 L1425.1 585.6 L1428.2 585.5 L1431.5 585.5 L1434.8 585.4 L1438.2 585.4 L1441.6 585.3 L1445.2 585.3 L1448.8 585.3 L1452.5 585.2 L1456.3 585.2 L1460.1 585.2 L1464.1 585.1 L1468.1 585.1 L1472.2 585.1 L1476.3 585.1 L1480.5 585.1 L1484.8 585.0 L1489.2 585.0 L1493.6 585.0 L1498.1 585.0 L1502.7 585.0 L1507.4 585.0 L1512.1 585.0 L1516.9 585.0 L1521.7 585.0 L1526.6 585.0 L1531.6 585.0 L1536.6 585.0 L1541.7 585.0 L1546.9 585.0 L1552.1 585.0 L1557.4 585.0 L1562.8 585.0 L1568.2 585.1 L1573.6 585.1 L1579.2 585.1 L1584.8 585.1 L1590.4 585.1 L1596.1 585.2 L1601.8 585.2 L1607.6 585.2 L1613.5 585.2 L1619.4 585.3 L1625.4 585.3 L1631.4 585.3 L1637.5 585.3 L1643.6 585.4 L1649.8 585.4 L1656.0 585.4 L1662.2 585.5 L1668.6 585.5 L1674.9 585.6 L1681.3 585.6 L1687.8 585.6 L1694.3 585.7 L1700.8 585.7 L1707.4 585.8 L1714.0 585.8 L1720.7 585.8 L1727.4 585.9 L1734.1 585.9 L1740.9 586.0 L1747.7 586.0 L1754.6 586.1 L1761.5 586.1 L1768.4 586.2 L1775.4 586.2 L1782.4 586.3 L1789.5 586.3 L1796.5 586.4 L1803.7 586.4 L1810.8 586.5 L1818.0 586.5 L1825.2 586.6 L1832.4 586.6 L1839.7 586.7 L1847.0 586.7 L1854.3 586.8 L1861.6 586.8 L1869.0 586.9 L1876.4 586.9 L1883.8 587.0 L1891.3 587.0 L1898.8 587.1 L1906.3 587.1 L1913.8 587.2 L1921.3 587.3 L1928.9 587.3 L1936.5 587.4 L1944.1 587.4 L1951.7 587.5 L1959.3 587.5 L1967.0 587.6 L1974.7 587.6 L1982.3 587.7 L1990.0 587.7 L1997.8 587.8 L2005.5 587.8 L2013.2 587.9 L2021.0 587.9 L2028.8 587.9 L2036.5 588.0 L2044.3 588.0 L2052.1 588.1 L2059.9 588.1 L2067.8 588.2 L2075.6 588.2 L2083.4 588.3 L2091.2 588.3 L2099.1 588.3 L2106.9 588.4 L2114.8 588.4 L2122.6 588.4 L2130.5 588.5 L2138.3 588.5 L2146.2 588.6 L2154.0 588.6 L2161.9 588.6 L2169.8 588.6 L2177.6 588.7 L2185.5 588.7 L2193.3 588.7 L2201.1 588.8 L2209.0 588.8 L2216.8 588.8" fill="none" stroke="#00c828" stroke-width="2.6" stroke-linejoin="round"/></g>
<rect x="238.0" y="1303.9" width="45.8" height="45.8" fill="url(#gp)" stroke="#b130ff" stroke-width="4.7"/>
<rect x="238.1" y="667.5" width="45.8" height="45.8" fill="url(#gp)" stroke="#b130ff" stroke-width="4.7"/>
<rect x="240.1" y="657.1" width="45.8" height="45.8" fill="url(#gp)" stroke="#b130ff" stroke-width="4.7"/>
<rect x="242.5" y="629.1" width="45.8" height="45.8" fill="url(#gp)" stroke="#b130ff" stroke-width="4.7"/>
<rect x="250.1" y="652.9" width="45.8" height="45.8" fill="url(#gp)" stroke="#b130ff" stroke-width="4.7"/>
<rect x="262.4" y="648.4" width="45.8" height="45.8" fill="url(#gp)" stroke="#b130ff" stroke-width="4.7"/>
<rect x="272.1" y="633.7" width="45.8" height="45.8" fill="url(#gp)" stroke="#b130ff" stroke-width="4.7"/>
<rect x="295.9" y="631.4" width="45.8" height="45.8" fill="url(#gp)" stroke="#b130ff" stroke-width="4.7"/>
<rect x="520.2" y="592.9" width="45.8" height="45.8" fill="url(#gp)" stroke="#b130ff" stroke-width="4.7"/>
<rect x="802.7" y="573.6" width="45.8" height="45.8" fill="url(#gp)" stroke="#b130ff" stroke-width="4.7"/>
<rect x="1086.5" y="590.7" width="45.8" height="45.8" fill="url(#gp)" stroke="#b130ff" stroke-width="4.7"/>
<rect x="1368.8" y="564.1" width="45.8" height="45.8" fill="url(#gp)" stroke="#b130ff" stroke-width="4.7"/>
<rect x="2193.6" y="566.4" width="45.8" height="45.8" fill="url(#gp)" stroke="#b130ff" stroke-width="4.7"/>
</g>
<g id="s3">
<g clip-path="url(#cl)"><path d="M261.2 1326.3 L261.2 1318.6 L261.2 1311.1 L261.2 1303.8 L261.2 1296.7 L261.1 1289.8 L261.1 1283.1 L261.1 1276.6 L261.1 1270.2 L261.0 1264.0 L261.0 1257.9 L261.0 1251.9 L261.0 1246.0 L260.9 1240.3 L260.9 1234.6 L260.9 1229.0 L260.9 1223.5 L260.8 1218.0 L260.8 1212.5 L260.8 1207.1 L260.8 1201.7 L260.8 1196.2 L260.8 1190.8 L260.8 1185.4 L260.8 1179.9 L260.8 1174.3 L260.8 1168.7 L260.9 1163.1 L260.9 1157.3 L260.9 1151.4 L261.0 1145.5 L261.0 1139.4 L261.1 1133.2 L261.2 1126.8 L261.3 1118.0 L261.5 1110.1 L261.6 1102.9 L261.7 1096.4 L261.9 1090.3 L262.0 1084.8 L262.2 1079.5 L262.3 1074.5 L262.5 1069.6 L262.6 1064.8 L262.8 1059.9 L263.0 1054.8 L263.2 1049.4 L263.4 1043.6 L263.6 1037.3 L263.8 1030.5 L264.0 1022.0 L264.0 1014.1 L263.9 1006.8 L263.7 1000.1 L263.6 993.7 L263.5 987.8 L263.5 982.1 L263.7 976.7 L264.2 971.5 L265.0 966.5 L266.1 961.5 L267.8 956.7 L269.5 954.1 L271.3 951.7 L273.5 947.5 L275.8 941.3 L277.7 935.1 L279.4 928.8 L281.1 922.3 L283.1 915.6 L285.4 908.5 L287.8 901.6 L289.5 896.7 L291.6 892.0 L294.9 885.3 L297.8 879.7 L300.0 875.1 L302.2 871.0 L304.8 866.7 L308.1 861.7 L312.8 855.2 L319.3 846.7 L321.9 843.3 L324.6 839.7 L327.3 836.1 L330.0 832.4 L332.8 828.7 L335.7 824.8 L338.5 820.9 L341.4 816.9 L344.4 812.8 L347.4 808.7 L350.4 804.5 L353.5 800.3 L356.7 796.0 L359.9 791.6 L363.1 787.2 L366.4 782.7 L369.8 778.2 L373.2 773.7 L376.7 769.1 L380.2 764.5 L383.8 759.8 L387.4 755.1 L391.2 750.4 L394.9 745.7 L398.8 740.9 L402.7 736.1 L406.6 731.3 L410.7 726.5 L414.8 721.7 L419.0 716.9 L423.2 712.0 L427.5 707.2 L431.9 702.4 L436.4 697.5 L440.9 692.7 L445.6 687.9 L450.3 683.1 L455.1 678.3 L459.9 673.5 L464.9 668.8 L469.9 664.1 L475.0 659.4 L480.2 654.7 L485.5 650.1 L490.9 645.5 L496.4 641.0 L501.9 636.5 L507.6 632.0 L513.3 627.6 L519.2 623.2 L525.1 618.9 L531.1 614.6 L537.3 610.4 L543.5 606.3 L550.0 602.1 L556.4 598.0 L562.7 594.1 L568.8 590.4 L574.9 586.8 L580.8 583.4 L586.6 580.1 L592.3 577.0 L597.9 574.0 L603.5 571.1 L608.9 568.4 L614.3 565.8 L619.7 563.3 L624.9 560.9 L630.2 558.6 L635.4 556.4 L640.5 554.3 L645.6 552.3 L650.7 550.4 L655.8 548.5 L660.9 546.8 L665.9 545.1 L671.0 543.4 L676.1 541.9 L681.2 540.3 L686.3 538.9 L691.4 537.5 L696.6 536.1 L701.8 534.7 L707.1 533.4 L712.4 532.1 L717.8 530.9 L723.3 529.6 L728.9 528.4 L734.5 527.1 L740.2 525.9 L746.0 524.6 L752.0 523.4 L758.0 522.1 L764.1 520.8 L770.4 519.5 L776.8 518.1 L783.4 516.8 L790.1 515.3 L796.9 513.9 L803.9 512.3 L811.1 510.7 L818.4 509.1 L825.9 507.4 L833.5 505.7 L841.0 504.0 L848.2 502.5 L855.2 501.0 L862.0 499.6 L868.7 498.2 L875.2 497.0 L881.5 495.8 L887.7 494.6 L893.8 493.6 L899.7 492.6 L905.6 491.6 L911.3 490.7 L916.9 489.9 L922.4 489.1 L927.9 488.4 L933.2 487.7 L938.6 487.0 L943.8 486.4 L949.0 485.9 L954.2 485.3 L959.4 484.8 L964.6 484.4 L969.7 483.9 L974.9 483.5 L980.1 483.1 L985.3 482.7 L990.5 482.3 L995.8 482.0 L1001.2 481.6 L1006.6 481.3 L1012.1 481.0 L1017.6 480.6 L1023.3 480.3 L1029.1 480.0 L1034.9 479.7 L1040.9 479.3 L1047.1 479.0 L1053.3 478.6 L1059.8 478.3 L1066.3 477.9 L1073.1 477.5 L1080.0 477.0 L1087.1 476.6 L1094.4 476.1 L1102.0 475.6 L1109.7 475.0 L1117.4 474.4 L1124.7 473.9 L1131.8 473.4 L1138.6 473.0 L1145.1 472.5 L1151.4 472.1 L1157.5 471.8 L1163.3 471.4 L1169.0 471.1 L1174.5 470.8 L1179.8 470.5 L1185.0 470.2 L1190.0 470.0 L1195.0 469.8 L1199.8 469.5 L1204.5 469.4 L1209.2 469.2 L1213.8 469.0 L1218.4 468.9 L1222.9 468.7 L1227.4 468.6 L1232.0 468.5 L1236.5 468.4 L1241.1 468.3 L1245.8 468.2 L1250.5 468.1 L1255.3 468.1 L1260.2 468.0 L1265.2 467.9 L1270.3 467.9 L1275.6 467.8 L1281.0 467.7 L1286.6 467.7 L1292.4 467.6 L1298.4 467.6 L1304.6 467.5 L1311.1 467.4 L1317.8 467.3 L1324.8 467.2 L1332.0 467.2 L1339.6 467.1 L1347.5 466.9 L1355.7 466.8 L1364.2 466.7 L1373.1 466.5 L1382.3 466.4 L1392.0 466.2 L1394.0 466.2 L1396.1 466.1 L1398.3 466.1 L1400.6 466.1 L1403.0 466.0 L1405.5 466.0 L1408.0 465.9 L1410.6 465.9 L1413.4 465.9 L1416.2 465.8 L1419.1 465.8 L1422.1 465.8 L1425.1 465.7 L1428.3 465.7 L1431.5 465.7 L1434.8 465.6 L1438.2 465.6 L1441.7 465.6 L1445.2 465.5 L1448.8 465.5 L1452.5 465.5 L1456.3 465.4 L1460.2 465.4 L1464.1 465.4 L1468.1 465.3 L1472.2 465.3 L1476.3 465.3 L1480.6 465.2 L1484.9 465.2 L1489.2 465.2 L1493.7 465.1 L1498.2 465.1 L1502.8 465.1 L1507.4 465.0 L1512.1 465.0 L1516.9 465.0 L1521.7 464.9 L1526.7 464.9 L1531.6 464.9 L1536.7 464.8 L1541.8 464.8 L1546.9 464.8 L1552.2 464.7 L1557.5 464.7 L1562.8 464.7 L1568.2 464.6 L1573.7 464.6 L1579.2 464.6 L1584.8 464.5 L1590.4 464.5 L1596.1 464.5 L1601.9 464.4 L1607.7 464.4 L1613.5 464.4 L1619.5 464.3 L1625.4 464.3 L1631.4 464.3 L1637.5 464.2 L1643.6 464.2 L1649.8 464.2 L1656.0 464.1 L1662.3 464.1 L1668.6 464.1 L1674.9 464.0 L1681.3 464.0 L1687.8 464.0 L1694.3 463.9 L1700.8 463.9 L1707.4 463.9 L1714.0 463.8 L1720.7 463.8 L1727.4 463.8 L1734.2 463.7 L1740.9 463.7 L1747.8 463.7 L1754.6 463.6 L1761.5 463.6 L1768.5 463.6 L1775.4 463.5 L1782.4 463.5 L1789.5 463.5 L1796.6 463.4 L1803.7 463.4 L1810.8 463.4 L1818.0 463.3 L1825.2 463.3 L1832.4 463.2 L1839.7 463.2 L1847.0 463.2 L1854.3 463.1 L1861.7 463.1 L1869.0 463.1 L1876.4 463.0 L1883.9 463.0 L1891.3 463.0 L1898.8 462.9 L1906.3 462.9 L1913.8 462.8 L1921.3 462.8 L1928.9 462.8 L1936.5 462.7 L1944.1 462.7 L1951.7 462.7 L1959.3 462.6 L1967.0 462.6 L1974.7 462.5 L1982.4 462.5 L1990.1 462.5 L1997.8 462.4 L2005.5 462.4 L2013.3 462.3 L2021.0 462.3 L2028.8 462.3 L2036.6 462.2 L2044.3 462.2 L2052.1 462.1 L2059.9 462.1 L2067.8 462.0 L2075.6 462.0 L2083.4 462.0 L2091.2 461.9 L2099.1 461.9 L2106.9 461.8 L2114.8 461.8 L2122.6 461.7 L2130.5 461.7 L2138.3 461.7 L2146.2 461.6 L2154.0 461.6 L2161.9 461.5 L2169.8 461.5 L2177.6 461.4 L2185.5 461.4 L2193.3 461.3 L2201.1 461.3 L2209.0 461.2 L2216.8 461.2" fill="none" stroke="#ff3d8f" stroke-width="9.8" stroke-linejoin="round" stroke-opacity="0.34"/>
<path d="M257.5 1326.3 L257.5 1318.6 L257.5 1311.1 L257.5 1303.8 L257.5 1296.7 L257.4 1289.8 L257.4 1283.1 L257.4 1276.6 L257.4 1270.2 L257.3 1264.0 L257.3 1257.9 L257.3 1251.9 L257.3 1246.1 L257.2 1240.3 L257.2 1234.6 L257.2 1229.0 L257.2 1223.5 L257.1 1218.0 L257.1 1212.5 L257.1 1207.1 L257.1 1201.7 L257.1 1196.2 L257.1 1190.8 L257.1 1185.4 L257.1 1179.9 L257.1 1174.3 L257.1 1168.7 L257.2 1163.0 L257.2 1157.3 L257.2 1151.4 L257.3 1145.4 L257.3 1139.3 L257.4 1133.1 L257.5 1126.7 L257.6 1118.0 L257.8 1110.0 L257.9 1102.8 L258.0 1096.3 L258.2 1090.3 L258.3 1084.7 L258.5 1079.4 L258.6 1074.4 L258.8 1069.5 L258.9 1064.7 L259.1 1059.7 L259.3 1054.6 L259.5 1049.2 L259.7 1043.5 L259.9 1037.2 L260.1 1030.4 L260.3 1022.0 L260.3 1014.2 L260.2 1006.9 L260.0 1000.1 L259.9 993.8 L259.8 987.8 L259.8 982.0 L260.0 976.5 L260.5 971.1 L261.3 965.8 L262.5 960.5 L264.4 955.2 L266.4 952.0 L268.2 949.8 L270.1 946.0 L272.3 940.1 L274.2 934.1 L275.9 927.8 L277.6 921.3 L279.5 914.5 L281.9 907.3 L284.3 900.4 L286.1 895.4 L288.2 890.4 L291.6 883.6 L294.4 878.0 L296.7 873.4 L299.0 869.2 L301.6 864.8 L305.1 859.6 L309.9 853.0 L316.4 844.5 L319.0 841.0 L321.6 837.5 L324.3 833.9 L327.1 830.2 L329.9 826.5 L332.7 822.6 L335.5 818.7 L338.4 814.7 L341.4 810.7 L344.4 806.5 L347.4 802.4 L350.5 798.1 L353.7 793.8 L356.9 789.4 L360.2 785.0 L363.5 780.5 L366.8 776.0 L370.3 771.5 L373.7 766.9 L377.3 762.2 L380.9 757.5 L384.5 752.8 L388.3 748.1 L392.0 743.4 L395.9 738.6 L399.8 733.8 L403.8 729.0 L407.9 724.1 L412.0 719.3 L416.2 714.4 L420.4 709.6 L424.8 704.7 L429.2 699.9 L433.7 695.0 L438.3 690.2 L442.9 685.3 L447.6 680.5 L452.5 675.7 L457.4 670.9 L462.3 666.1 L467.4 661.4 L472.5 656.7 L477.8 652.0 L483.1 647.3 L488.5 642.7 L494.0 638.1 L499.6 633.6 L505.3 629.1 L511.1 624.6 L517.0 620.2 L522.9 615.9 L529.0 611.6 L535.2 607.4 L541.5 603.2 L548.0 599.0 L554.5 594.9 L560.8 591.0 L566.9 587.2 L573.0 583.6 L578.9 580.2 L584.8 576.9 L590.6 573.7 L596.2 570.7 L601.8 567.8 L607.3 565.1 L612.7 562.4 L618.1 559.9 L623.4 557.5 L628.7 555.2 L633.9 553.0 L639.1 550.8 L644.3 548.8 L649.4 546.9 L654.5 545.0 L659.7 543.3 L664.8 541.5 L669.9 539.9 L675.0 538.3 L680.1 536.8 L685.3 535.3 L690.5 533.9 L695.7 532.5 L700.9 531.2 L706.2 529.8 L711.6 528.5 L717.0 527.3 L722.5 526.0 L728.1 524.8 L733.7 523.5 L739.4 522.3 L745.3 521.0 L751.2 519.8 L757.2 518.5 L763.4 517.2 L769.7 515.9 L776.1 514.5 L782.6 513.1 L789.3 511.7 L796.1 510.2 L803.1 508.7 L810.3 507.1 L817.6 505.5 L825.1 503.8 L832.7 502.1 L840.2 500.4 L847.4 498.8 L854.4 497.4 L861.3 495.9 L868.0 494.6 L874.5 493.3 L880.9 492.1 L887.1 491.0 L893.2 489.9 L899.1 488.9 L905.0 488.0 L910.7 487.1 L916.4 486.2 L921.9 485.5 L927.4 484.7 L932.8 484.0 L938.1 483.4 L943.4 482.8 L948.7 482.2 L953.9 481.6 L959.1 481.1 L964.3 480.7 L969.4 480.2 L974.6 479.8 L979.8 479.4 L985.0 479.0 L990.3 478.6 L995.6 478.3 L1000.9 477.9 L1006.4 477.6 L1011.9 477.3 L1017.4 477.0 L1023.1 476.6 L1028.9 476.3 L1034.7 476.0 L1040.7 475.6 L1046.9 475.3 L1053.1 474.9 L1059.5 474.6 L1066.1 474.2 L1072.9 473.8 L1079.8 473.3 L1086.9 472.9 L1094.2 472.4 L1101.7 471.9 L1109.4 471.3 L1117.1 470.8 L1124.4 470.2 L1131.5 469.7 L1138.3 469.3 L1144.9 468.9 L1151.2 468.5 L1157.2 468.1 L1163.1 467.7 L1168.8 467.4 L1174.3 467.1 L1179.6 466.8 L1184.8 466.5 L1189.8 466.3 L1194.8 466.1 L1199.6 465.8 L1204.4 465.7 L1209.0 465.5 L1213.7 465.3 L1218.2 465.2 L1222.8 465.0 L1227.3 464.9 L1231.9 464.8 L1236.5 464.7 L1241.1 464.6 L1245.7 464.5 L1250.4 464.4 L1255.2 464.4 L1260.1 464.3 L1265.1 464.2 L1270.3 464.2 L1275.5 464.1 L1281.0 464.0 L1286.6 464.0 L1292.4 463.9 L1298.4 463.9 L1304.6 463.8 L1311.1 463.7 L1317.8 463.6 L1324.7 463.5 L1332.0 463.5 L1339.5 463.4 L1347.4 463.2 L1355.6 463.1 L1364.1 463.0 L1373.0 462.8 L1382.3 462.7 L1391.9 462.5 L1394.0 462.5 L1396.1 462.4 L1398.3 462.4 L1400.6 462.4 L1402.9 462.3 L1405.4 462.3 L1408.0 462.2 L1410.6 462.2 L1413.3 462.2 L1416.1 462.1 L1419.0 462.1 L1422.0 462.1 L1425.1 462.0 L1428.2 462.0 L1431.5 462.0 L1434.8 461.9 L1438.2 461.9 L1441.6 461.9 L1445.2 461.8 L1448.8 461.8 L1452.5 461.8 L1456.3 461.7 L1460.1 461.7 L1464.1 461.7 L1468.1 461.6 L1472.2 461.6 L1476.3 461.6 L1480.5 461.5 L1484.8 461.5 L1489.2 461.5 L1493.6 461.4 L1498.2 461.4 L1502.7 461.4 L1507.4 461.3 L1512.1 461.3 L1516.9 461.3 L1521.7 461.2 L1526.6 461.2 L1531.6 461.2 L1536.6 461.1 L1541.8 461.1 L1546.9 461.1 L1552.1 461.0 L1557.4 461.0 L1562.8 461.0 L1568.2 460.9 L1573.7 460.9 L1579.2 460.9 L1584.8 460.8 L1590.4 460.8 L1596.1 460.8 L1601.9 460.7 L1607.7 460.7 L1613.5 460.7 L1619.4 460.6 L1625.4 460.6 L1631.4 460.6 L1637.5 460.5 L1643.6 460.5 L1649.8 460.5 L1656.0 460.4 L1662.3 460.4 L1668.6 460.4 L1674.9 460.3 L1681.3 460.3 L1687.8 460.3 L1694.3 460.2 L1700.8 460.2 L1707.4 460.2 L1714.0 460.1 L1720.7 460.1 L1727.4 460.1 L1734.1 460.0 L1740.9 460.0 L1747.7 460.0 L1754.6 459.9 L1761.5 459.9 L1768.4 459.9 L1775.4 459.8 L1782.4 459.8 L1789.5 459.8 L1796.5 459.7 L1803.7 459.7 L1810.8 459.7 L1818.0 459.6 L1825.2 459.6 L1832.4 459.5 L1839.7 459.5 L1847.0 459.5 L1854.3 459.4 L1861.6 459.4 L1869.0 459.4 L1876.4 459.3 L1883.8 459.3 L1891.3 459.3 L1898.8 459.2 L1906.3 459.2 L1913.8 459.1 L1921.3 459.1 L1928.9 459.1 L1936.5 459.0 L1944.1 459.0 L1951.7 459.0 L1959.3 458.9 L1967.0 458.9 L1974.6 458.8 L1982.3 458.8 L1990.0 458.8 L1997.8 458.7 L2005.5 458.7 L2013.2 458.6 L2021.0 458.6 L2028.8 458.6 L2036.5 458.5 L2044.3 458.5 L2052.1 458.4 L2059.9 458.4 L2067.7 458.3 L2075.6 458.3 L2083.4 458.3 L2091.2 458.2 L2099.1 458.2 L2106.9 458.1 L2114.8 458.1 L2122.6 458.0 L2130.5 458.0 L2138.3 458.0 L2146.2 457.9 L2154.0 457.9 L2161.9 457.8 L2169.7 457.8 L2177.6 457.7 L2185.4 457.7 L2193.3 457.6 L2201.1 457.6 L2208.9 457.5 L2216.8 457.5" fill="none" stroke="#ff4f9c" stroke-width="2.2" stroke-linejoin="round" stroke-opacity="0.75"/>
<path d="M264.9 1326.3 L264.9 1318.6 L264.9 1311.0 L264.9 1303.8 L264.9 1296.7 L264.8 1289.8 L264.8 1283.1 L264.8 1276.6 L264.8 1270.2 L264.7 1264.0 L264.7 1257.9 L264.7 1251.9 L264.7 1246.0 L264.6 1240.3 L264.6 1234.6 L264.6 1229.0 L264.6 1223.4 L264.5 1218.0 L264.5 1212.5 L264.5 1207.1 L264.5 1201.7 L264.5 1196.2 L264.5 1190.8 L264.5 1185.4 L264.5 1179.9 L264.5 1174.3 L264.5 1168.7 L264.6 1163.1 L264.6 1157.3 L264.6 1151.5 L264.7 1145.5 L264.7 1139.4 L264.8 1133.2 L264.9 1126.9 L265.0 1118.1 L265.2 1110.2 L265.3 1103.0 L265.4 1096.4 L265.6 1090.4 L265.7 1084.9 L265.9 1079.6 L266.0 1074.6 L266.2 1069.8 L266.3 1064.9 L266.5 1060.0 L266.7 1054.9 L266.9 1049.5 L267.1 1043.7 L267.3 1037.5 L267.5 1030.6 L267.7 1022.0 L267.7 1014.1 L267.6 1006.8 L267.4 1000.0 L267.2 993.7 L267.2 987.7 L267.2 982.2 L267.4 977.0 L267.9 972.0 L268.6 967.2 L269.7 962.5 L271.1 958.3 L272.5 956.3 L274.5 953.7 L276.9 949.0 L279.3 942.5 L281.3 936.1 L283.0 929.8 L284.7 923.3 L286.6 916.7 L288.9 909.7 L291.3 902.8 L293.0 898.1 L294.9 893.5 L298.2 887.0 L301.1 881.3 L303.3 876.8 L305.4 872.8 L307.9 868.7 L311.2 863.8 L315.8 857.4 L322.2 848.9 L324.9 845.5 L327.6 842.0 L330.3 838.4 L333.0 834.6 L335.8 830.9 L338.6 827.0 L341.5 823.1 L344.4 819.1 L347.4 815.0 L350.4 810.9 L353.4 806.7 L356.5 802.5 L359.7 798.2 L362.9 793.8 L366.1 789.4 L369.4 784.9 L372.8 780.4 L376.2 775.9 L379.6 771.3 L383.1 766.7 L386.7 762.1 L390.4 757.4 L394.1 752.7 L397.8 748.0 L401.6 743.2 L405.5 738.5 L409.5 733.7 L413.5 728.9 L417.6 724.1 L421.8 719.3 L426.0 714.5 L430.3 709.7 L434.7 704.9 L439.1 700.1 L443.6 695.3 L448.2 690.5 L452.9 685.7 L457.7 680.9 L462.5 676.2 L467.4 671.5 L472.4 666.8 L477.5 662.1 L482.7 657.5 L487.9 652.9 L493.3 648.3 L498.7 643.8 L504.2 639.3 L509.9 634.9 L515.6 630.5 L521.4 626.2 L527.3 621.9 L533.2 617.7 L539.3 613.5 L545.5 609.4 L552.0 605.2 L558.4 601.2 L564.6 597.3 L570.7 593.6 L576.7 590.0 L582.6 586.6 L588.4 583.4 L594.1 580.2 L599.7 577.3 L605.2 574.4 L610.6 571.7 L615.9 569.1 L621.2 566.6 L626.5 564.2 L631.6 562.0 L636.8 559.8 L641.9 557.7 L646.9 555.7 L652.0 553.8 L657.0 552.0 L662.0 550.3 L667.1 548.6 L672.1 547.0 L677.1 545.4 L682.2 543.9 L687.3 542.4 L692.4 541.0 L697.5 539.7 L702.7 538.3 L708.0 537.0 L713.3 535.7 L718.7 534.5 L724.1 533.2 L729.7 532.0 L735.3 530.7 L741.0 529.5 L746.8 528.3 L752.7 527.0 L758.8 525.7 L764.9 524.4 L771.2 523.1 L777.6 521.8 L784.1 520.4 L790.8 518.9 L797.7 517.5 L804.7 515.9 L811.9 514.4 L819.2 512.7 L826.7 511.0 L834.3 509.3 L841.7 507.6 L848.9 506.1 L855.9 504.6 L862.8 503.2 L869.4 501.9 L875.9 500.6 L882.2 499.4 L888.4 498.3 L894.4 497.2 L900.3 496.2 L906.1 495.3 L911.8 494.4 L917.4 493.6 L922.9 492.8 L928.3 492.1 L933.7 491.4 L939.0 490.7 L944.2 490.1 L949.4 489.5 L954.6 489.0 L959.8 488.5 L964.9 488.0 L970.1 487.6 L975.2 487.2 L980.4 486.8 L985.6 486.4 L990.8 486.0 L996.1 485.7 L1001.4 485.3 L1006.8 485.0 L1012.3 484.7 L1017.9 484.3 L1023.5 484.0 L1029.3 483.7 L1035.1 483.4 L1041.1 483.0 L1047.3 482.7 L1053.5 482.3 L1060.0 481.9 L1066.6 481.6 L1073.3 481.1 L1080.2 480.7 L1087.4 480.3 L1094.7 479.8 L1102.2 479.2 L1110.0 478.7 L1117.6 478.1 L1125.0 477.6 L1132.0 477.1 L1138.8 476.7 L1145.3 476.2 L1151.6 475.8 L1157.7 475.5 L1163.5 475.1 L1169.2 474.8 L1174.7 474.5 L1180.0 474.2 L1185.2 473.9 L1190.2 473.7 L1195.1 473.4 L1199.9 473.2 L1204.7 473.0 L1209.3 472.9 L1213.9 472.7 L1218.5 472.6 L1223.0 472.4 L1227.5 472.3 L1232.1 472.2 L1236.6 472.1 L1241.2 472.0 L1245.8 471.9 L1250.5 471.8 L1255.3 471.8 L1260.2 471.7 L1265.2 471.6 L1270.4 471.6 L1275.6 471.5 L1281.1 471.4 L1286.7 471.4 L1292.5 471.3 L1298.5 471.3 L1304.7 471.2 L1311.2 471.1 L1317.9 471.0 L1324.8 470.9 L1332.1 470.9 L1339.6 470.8 L1347.5 470.6 L1355.7 470.5 L1364.2 470.4 L1373.1 470.2 L1382.4 470.1 L1392.1 469.9 L1394.1 469.9 L1396.2 469.8 L1398.4 469.8 L1400.7 469.8 L1403.0 469.7 L1405.5 469.7 L1408.1 469.6 L1410.7 469.6 L1413.4 469.6 L1416.2 469.5 L1419.1 469.5 L1422.1 469.5 L1425.2 469.4 L1428.3 469.4 L1431.5 469.4 L1434.8 469.3 L1438.2 469.3 L1441.7 469.3 L1445.2 469.2 L1448.9 469.2 L1452.6 469.2 L1456.3 469.1 L1460.2 469.1 L1464.1 469.1 L1468.1 469.0 L1472.2 469.0 L1476.4 469.0 L1480.6 468.9 L1484.9 468.9 L1489.3 468.9 L1493.7 468.8 L1498.2 468.8 L1502.8 468.8 L1507.4 468.7 L1512.1 468.7 L1516.9 468.7 L1521.8 468.6 L1526.7 468.6 L1531.7 468.6 L1536.7 468.5 L1541.8 468.5 L1547.0 468.5 L1552.2 468.4 L1557.5 468.4 L1562.8 468.4 L1568.2 468.3 L1573.7 468.3 L1579.2 468.3 L1584.8 468.2 L1590.5 468.2 L1596.1 468.2 L1601.9 468.1 L1607.7 468.1 L1613.6 468.1 L1619.5 468.0 L1625.4 468.0 L1631.5 468.0 L1637.5 467.9 L1643.6 467.9 L1649.8 467.9 L1656.0 467.8 L1662.3 467.8 L1668.6 467.8 L1675.0 467.7 L1681.4 467.7 L1687.8 467.7 L1694.3 467.6 L1700.8 467.6 L1707.4 467.6 L1714.1 467.5 L1720.7 467.5 L1727.4 467.5 L1734.2 467.4 L1741.0 467.4 L1747.8 467.4 L1754.6 467.3 L1761.5 467.3 L1768.5 467.3 L1775.5 467.2 L1782.5 467.2 L1789.5 467.2 L1796.6 467.1 L1803.7 467.1 L1810.8 467.1 L1818.0 467.0 L1825.2 467.0 L1832.4 466.9 L1839.7 466.9 L1847.0 466.9 L1854.3 466.8 L1861.7 466.8 L1869.0 466.8 L1876.4 466.7 L1883.9 466.7 L1891.3 466.7 L1898.8 466.6 L1906.3 466.6 L1913.8 466.5 L1921.4 466.5 L1928.9 466.5 L1936.5 466.4 L1944.1 466.4 L1951.7 466.4 L1959.4 466.3 L1967.0 466.3 L1974.7 466.2 L1982.4 466.2 L1990.1 466.2 L1997.8 466.1 L2005.5 466.1 L2013.3 466.0 L2021.0 466.0 L2028.8 466.0 L2036.6 465.9 L2044.4 465.9 L2052.2 465.8 L2060.0 465.8 L2067.8 465.7 L2075.6 465.7 L2083.4 465.7 L2091.3 465.6 L2099.1 465.6 L2107.0 465.5 L2114.8 465.5 L2122.6 465.4 L2130.5 465.4 L2138.4 465.4 L2146.2 465.3 L2154.1 465.3 L2161.9 465.2 L2169.8 465.2 L2177.6 465.1 L2185.5 465.1 L2193.3 465.0 L2201.2 465.0 L2209.0 464.9 L2216.8 464.9" fill="none" stroke="#ff4f9c" stroke-width="2.2" stroke-linejoin="round" stroke-opacity="0.75"/>
<path d="M261.2 1326.3 L261.2 1318.6 L261.2 1311.1 L261.2 1303.8 L261.2 1296.7 L261.1 1289.8 L261.1 1283.1 L261.1 1276.6 L261.1 1270.2 L261.0 1264.0 L261.0 1257.9 L261.0 1251.9 L261.0 1246.0 L260.9 1240.3 L260.9 1234.6 L260.9 1229.0 L260.9 1223.5 L260.8 1218.0 L260.8 1212.5 L260.8 1207.1 L260.8 1201.7 L260.8 1196.2 L260.8 1190.8 L260.8 1185.4 L260.8 1179.9 L260.8 1174.3 L260.8 1168.7 L260.9 1163.1 L260.9 1157.3 L260.9 1151.4 L261.0 1145.5 L261.0 1139.4 L261.1 1133.2 L261.2 1126.8 L261.3 1118.0 L261.5 1110.1 L261.6 1102.9 L261.7 1096.4 L261.9 1090.3 L262.0 1084.8 L262.2 1079.5 L262.3 1074.5 L262.5 1069.6 L262.6 1064.8 L262.8 1059.9 L263.0 1054.8 L263.2 1049.4 L263.4 1043.6 L263.6 1037.3 L263.8 1030.5 L264.0 1022.0 L264.0 1014.1 L263.9 1006.8 L263.7 1000.1 L263.6 993.7 L263.5 987.8 L263.5 982.1 L263.7 976.7 L264.2 971.5 L265.0 966.5 L266.1 961.5 L267.8 956.7 L269.5 954.1 L271.3 951.7 L273.5 947.5 L275.8 941.3 L277.7 935.1 L279.4 928.8 L281.1 922.3 L283.1 915.6 L285.4 908.5 L287.8 901.6 L289.5 896.7 L291.6 892.0 L294.9 885.3 L297.8 879.7 L300.0 875.1 L302.2 871.0 L304.8 866.7 L308.1 861.7 L312.8 855.2 L319.3 846.7 L321.9 843.3 L324.6 839.7 L327.3 836.1 L330.0 832.4 L332.8 828.7 L335.7 824.8 L338.5 820.9 L341.4 816.9 L344.4 812.8 L347.4 808.7 L350.4 804.5 L353.5 800.3 L356.7 796.0 L359.9 791.6 L363.1 787.2 L366.4 782.7 L369.8 778.2 L373.2 773.7 L376.7 769.1 L380.2 764.5 L383.8 759.8 L387.4 755.1 L391.2 750.4 L394.9 745.7 L398.8 740.9 L402.7 736.1 L406.6 731.3 L410.7 726.5 L414.8 721.7 L419.0 716.9 L423.2 712.0 L427.5 707.2 L431.9 702.4 L436.4 697.5 L440.9 692.7 L445.6 687.9 L450.3 683.1 L455.1 678.3 L459.9 673.5 L464.9 668.8 L469.9 664.1 L475.0 659.4 L480.2 654.7 L485.5 650.1 L490.9 645.5 L496.4 641.0 L501.9 636.5 L507.6 632.0 L513.3 627.6 L519.2 623.2 L525.1 618.9 L531.1 614.6 L537.3 610.4 L543.5 606.3 L550.0 602.1 L556.4 598.0 L562.7 594.1 L568.8 590.4 L574.9 586.8 L580.8 583.4 L586.6 580.1 L592.3 577.0 L597.9 574.0 L603.5 571.1 L608.9 568.4 L614.3 565.8 L619.7 563.3 L624.9 560.9 L630.2 558.6 L635.4 556.4 L640.5 554.3 L645.6 552.3 L650.7 550.4 L655.8 548.5 L660.9 546.8 L665.9 545.1 L671.0 543.4 L676.1 541.9 L681.2 540.3 L686.3 538.9 L691.4 537.5 L696.6 536.1 L701.8 534.7 L707.1 533.4 L712.4 532.1 L717.8 530.9 L723.3 529.6 L728.9 528.4 L734.5 527.1 L740.2 525.9 L746.0 524.6 L752.0 523.4 L758.0 522.1 L764.1 520.8 L770.4 519.5 L776.8 518.1 L783.4 516.8 L790.1 515.3 L796.9 513.9 L803.9 512.3 L811.1 510.7 L818.4 509.1 L825.9 507.4 L833.5 505.7 L841.0 504.0 L848.2 502.5 L855.2 501.0 L862.0 499.6 L868.7 498.2 L875.2 497.0 L881.5 495.8 L887.7 494.6 L893.8 493.6 L899.7 492.6 L905.6 491.6 L911.3 490.7 L916.9 489.9 L922.4 489.1 L927.9 488.4 L933.2 487.7 L938.6 487.0 L943.8 486.4 L949.0 485.9 L954.2 485.3 L959.4 484.8 L964.6 484.4 L969.7 483.9 L974.9 483.5 L980.1 483.1 L985.3 482.7 L990.5 482.3 L995.8 482.0 L1001.2 481.6 L1006.6 481.3 L1012.1 481.0 L1017.6 480.6 L1023.3 480.3 L1029.1 480.0 L1034.9 479.7 L1040.9 479.3 L1047.1 479.0 L1053.3 478.6 L1059.8 478.3 L1066.3 477.9 L1073.1 477.5 L1080.0 477.0 L1087.1 476.6 L1094.4 476.1 L1102.0 475.6 L1109.7 475.0 L1117.4 474.4 L1124.7 473.9 L1131.8 473.4 L1138.6 473.0 L1145.1 472.5 L1151.4 472.1 L1157.5 471.8 L1163.3 471.4 L1169.0 471.1 L1174.5 470.8 L1179.8 470.5 L1185.0 470.2 L1190.0 470.0 L1195.0 469.8 L1199.8 469.5 L1204.5 469.4 L1209.2 469.2 L1213.8 469.0 L1218.4 468.9 L1222.9 468.7 L1227.4 468.6 L1232.0 468.5 L1236.5 468.4 L1241.1 468.3 L1245.8 468.2 L1250.5 468.1 L1255.3 468.1 L1260.2 468.0 L1265.2 467.9 L1270.3 467.9 L1275.6 467.8 L1281.0 467.7 L1286.6 467.7 L1292.4 467.6 L1298.4 467.6 L1304.6 467.5 L1311.1 467.4 L1317.8 467.3 L1324.8 467.2 L1332.0 467.2 L1339.6 467.1 L1347.5 466.9 L1355.7 466.8 L1364.2 466.7 L1373.1 466.5 L1382.3 466.4 L1392.0 466.2 L1394.0 466.2 L1396.1 466.1 L1398.3 466.1 L1400.6 466.1 L1403.0 466.0 L1405.5 466.0 L1408.0 465.9 L1410.6 465.9 L1413.4 465.9 L1416.2 465.8 L1419.1 465.8 L1422.1 465.8 L1425.1 465.7 L1428.3 465.7 L1431.5 465.7 L1434.8 465.6 L1438.2 465.6 L1441.7 465.6 L1445.2 465.5 L1448.8 465.5 L1452.5 465.5 L1456.3 465.4 L1460.2 465.4 L1464.1 465.4 L1468.1 465.3 L1472.2 465.3 L1476.3 465.3 L1480.6 465.2 L1484.9 465.2 L1489.2 465.2 L1493.7 465.1 L1498.2 465.1 L1502.8 465.1 L1507.4 465.0 L1512.1 465.0 L1516.9 465.0 L1521.7 464.9 L1526.7 464.9 L1531.6 464.9 L1536.7 464.8 L1541.8 464.8 L1546.9 464.8 L1552.2 464.7 L1557.5 464.7 L1562.8 464.7 L1568.2 464.6 L1573.7 464.6 L1579.2 464.6 L1584.8 464.5 L1590.4 464.5 L1596.1 464.5 L1601.9 464.4 L1607.7 464.4 L1613.5 464.4 L1619.5 464.3 L1625.4 464.3 L1631.4 464.3 L1637.5 464.2 L1643.6 464.2 L1649.8 464.2 L1656.0 464.1 L1662.3 464.1 L1668.6 464.1 L1674.9 464.0 L1681.3 464.0 L1687.8 464.0 L1694.3 463.9 L1700.8 463.9 L1707.4 463.9 L1714.0 463.8 L1720.7 463.8 L1727.4 463.8 L1734.2 463.7 L1740.9 463.7 L1747.8 463.7 L1754.6 463.6 L1761.5 463.6 L1768.5 463.6 L1775.4 463.5 L1782.4 463.5 L1789.5 463.5 L1796.6 463.4 L1803.7 463.4 L1810.8 463.4 L1818.0 463.3 L1825.2 463.3 L1832.4 463.2 L1839.7 463.2 L1847.0 463.2 L1854.3 463.1 L1861.7 463.1 L1869.0 463.1 L1876.4 463.0 L1883.9 463.0 L1891.3 463.0 L1898.8 462.9 L1906.3 462.9 L1913.8 462.8 L1921.3 462.8 L1928.9 462.8 L1936.5 462.7 L1944.1 462.7 L1951.7 462.7 L1959.3 462.6 L1967.0 462.6 L1974.7 462.5 L1982.4 462.5 L1990.1 462.5 L1997.8 462.4 L2005.5 462.4 L2013.3 462.3 L2021.0 462.3 L2028.8 462.3 L2036.6 462.2 L2044.3 462.2 L2052.1 462.1 L2059.9 462.1 L2067.8 462.0 L2075.6 462.0 L2083.4 462.0 L2091.2 461.9 L2099.1 461.9 L2106.9 461.8 L2114.8 461.8 L2122.6 461.7 L2130.5 461.7 L2138.3 461.7 L2146.2 461.6 L2154.0 461.6 L2161.9 461.5 L2169.8 461.5 L2177.6 461.4 L2185.5 461.4 L2193.3 461.3 L2201.1 461.3 L2209.0 461.2 L2216.8 461.2" fill="none" stroke="#e8005f" stroke-width="2.6" stroke-linejoin="round"/></g>
<circle cx="260.9" cy="1326.8" r="23.3" fill="url(#gb)" stroke="#0069a6" stroke-width="3.7"/>
<circle cx="260.9" cy="1127.3" r="23.3" fill="url(#gb)" stroke="#0069a6" stroke-width="3.7"/>
<circle cx="263.5" cy="1031.0" r="23.3" fill="url(#gb)" stroke="#0069a6" stroke-width="3.7"/>
<circle cx="265.8" cy="962.0" r="23.3" fill="url(#gb)" stroke="#0069a6" stroke-width="3.7"/>
<circle cx="273.2" cy="948.0" r="23.3" fill="url(#gb)" stroke="#0069a6" stroke-width="3.7"/>
<circle cx="285.1" cy="909.0" r="23.3" fill="url(#gb)" stroke="#0069a6" stroke-width="3.7"/>
<circle cx="294.6" cy="885.8" r="23.3" fill="url(#gb)" stroke="#0069a6" stroke-width="3.7"/>
<circle cx="319.0" cy="847.2" r="23.3" fill="url(#gb)" stroke="#0069a6" stroke-width="3.7"/>
<circle cx="543.2" cy="606.8" r="23.3" fill="url(#gb)" stroke="#0069a6" stroke-width="3.7"/>
<circle cx="825.6" cy="507.9" r="23.3" fill="url(#gb)" stroke="#0069a6" stroke-width="3.7"/>
<circle cx="1109.4" cy="475.5" r="23.3" fill="url(#gb)" stroke="#0069a6" stroke-width="3.7"/>
<circle cx="1391.7" cy="466.7" r="23.3" fill="url(#gb)" stroke="#0069a6" stroke-width="3.7"/>
<circle cx="2216.5" cy="461.7" r="23.3" fill="url(#gb)" stroke="#0069a6" stroke-width="3.7"/>
</g>
<g id="s4">
<g clip-path="url(#cl)"><path d="M261.3 1326.5 L261.3 1318.7 L261.3 1311.1 L261.3 1303.5 L261.3 1296.1 L261.3 1288.9 L261.3 1281.7 L261.3 1274.7 L261.3 1267.7 L261.2 1260.9 L261.2 1254.2 L261.2 1247.6 L261.2 1241.1 L261.2 1234.7 L261.2 1228.3 L261.2 1222.1 L261.1 1215.9 L261.1 1209.8 L261.1 1203.8 L261.1 1197.8 L261.1 1191.9 L261.1 1186.1 L261.1 1180.3 L261.0 1174.6 L261.0 1168.9 L261.0 1163.3 L261.0 1157.7 L261.0 1152.1 L261.0 1146.6 L261.0 1141.1 L260.9 1135.6 L260.9 1130.1 L260.9 1124.7 L260.9 1119.3 L260.9 1113.8 L260.9 1108.4 L260.9 1103.0 L260.9 1097.6 L260.9 1092.1 L260.9 1086.7 L260.9 1081.2 L260.9 1075.7 L260.9 1070.2 L260.9 1064.7 L260.9 1059.1 L260.9 1053.5 L261.0 1047.8 L261.0 1042.1 L261.0 1036.4 L261.0 1030.6 L261.0 1024.7 L261.1 1018.8 L261.1 1012.8 L261.1 1006.8 L261.2 1000.7 L261.2 994.5 L261.3 988.2 L261.3 981.8 L261.4 972.7 L261.4 963.9 L261.5 955.5 L261.5 947.4 L261.6 939.6 L261.6 932.2 L261.6 925.0 L261.7 918.1 L261.7 911.4 L261.8 905.0 L261.8 898.9 L261.8 892.9 L261.9 887.1 L261.9 881.5 L262.0 876.1 L262.1 870.9 L262.2 865.7 L262.2 860.7 L262.3 855.8 L262.5 850.9 L262.6 846.2 L262.7 841.5 L262.9 836.8 L263.1 832.1 L263.3 827.5 L263.5 822.9 L263.7 818.2 L264.1 807.6 L264.4 801.0 L264.9 795.7 L266.3 788.9 L267.9 783.7 L269.6 780.4 L271.5 776.7 L273.5 770.2 L274.6 765.1 L275.5 759.4 L276.2 753.3 L276.8 746.9 L277.3 740.2 L277.8 733.3 L278.2 726.2 L278.6 719.2 L279.0 712.1 L279.5 705.2 L280.1 698.4 L280.8 692.0 L281.7 685.8 L282.8 680.1 L284.0 674.9 L285.6 670.2 L288.1 665.1 L290.3 662.7 L292.7 660.5 L295.8 656.0 L298.0 651.1 L299.6 646.1 L300.6 641.0 L301.5 635.7 L302.5 630.2 L304.0 624.5 L306.1 618.5 L309.3 612.2 L313.7 605.4 L319.8 598.3 L323.2 594.7 L326.7 591.2 L330.4 587.8 L334.1 584.4 L337.9 581.0 L341.8 577.7 L345.8 574.4 L349.8 571.2 L354.0 568.1 L358.3 564.9 L362.7 561.9 L367.2 558.8 L371.8 555.8 L376.5 552.9 L381.2 550.0 L386.1 547.2 L391.1 544.4 L396.2 541.6 L401.4 538.9 L406.7 536.2 L412.1 533.6 L417.7 531.0 L423.3 528.5 L429.0 526.0 L434.9 523.5 L440.8 521.1 L446.9 518.8 L453.0 516.4 L459.3 514.1 L465.7 511.9 L472.2 509.7 L478.8 507.6 L485.6 505.4 L492.4 503.4 L499.4 501.3 L506.4 499.4 L513.6 497.4 L521.0 495.5 L528.4 493.6 L535.9 491.8 L543.6 490.0 L550.7 488.4 L557.6 487.0 L564.4 485.7 L571.0 484.6 L577.5 483.5 L583.8 482.6 L590.0 481.9 L596.1 481.2 L602.1 480.6 L607.9 480.2 L613.7 479.8 L619.4 479.6 L625.0 479.4 L630.5 479.3 L636.0 479.3 L641.4 479.3 L646.8 479.5 L652.1 479.7 L657.4 479.9 L662.6 480.2 L667.9 480.6 L673.2 481.0 L678.4 481.4 L683.7 481.9 L688.9 482.4 L694.2 482.9 L699.6 483.4 L705.0 484.0 L710.4 484.5 L715.9 485.1 L721.4 485.6 L727.1 486.2 L732.8 486.7 L738.6 487.2 L744.5 487.7 L750.5 488.2 L756.6 488.6 L762.8 489.0 L769.2 489.4 L775.7 489.7 L782.4 489.9 L789.2 490.1 L796.2 490.2 L803.3 490.3 L810.7 490.3 L818.2 490.2 L825.9 490.0 L833.6 489.8 L841.1 489.5 L848.4 489.3 L855.5 489.0 L862.4 488.7 L869.2 488.4 L875.7 488.1 L882.1 487.7 L888.3 487.4 L894.4 487.0 L900.4 486.7 L906.3 486.3 L912.0 485.9 L917.6 485.5 L923.1 485.2 L928.6 484.8 L934.0 484.4 L939.3 483.9 L944.5 483.5 L949.8 483.1 L954.9 482.7 L960.1 482.3 L965.2 481.9 L970.4 481.5 L975.5 481.1 L980.7 480.6 L985.8 480.2 L991.1 479.8 L996.3 479.4 L1001.6 479.0 L1007.0 478.6 L1012.5 478.2 L1018.0 477.9 L1023.6 477.5 L1029.4 477.1 L1035.2 476.8 L1041.2 476.4 L1047.3 476.1 L1053.5 475.8 L1059.9 475.5 L1066.4 475.2 L1073.2 474.9 L1080.1 474.6 L1087.2 474.4 L1094.5 474.1 L1102.0 473.9 L1109.7 473.7 L1117.4 473.5 L1124.7 473.4 L1131.8 473.2 L1138.6 473.1 L1145.1 473.0 L1151.4 472.9 L1157.5 472.8 L1163.4 472.8 L1169.0 472.7 L1174.5 472.7 L1179.9 472.7 L1185.0 472.7 L1190.1 472.7 L1195.0 472.7 L1199.8 472.8 L1204.6 472.8 L1209.2 472.9 L1213.9 473.0 L1218.4 473.0 L1223.0 473.1 L1227.5 473.2 L1232.0 473.3 L1236.6 473.4 L1241.2 473.5 L1245.8 473.6 L1250.5 473.8 L1255.3 473.9 L1260.2 474.0 L1265.2 474.1 L1270.4 474.3 L1275.6 474.4 L1281.1 474.5 L1286.7 474.6 L1292.5 474.8 L1298.5 474.9 L1304.7 475.0 L1311.1 475.1 L1317.8 475.2 L1324.8 475.3 L1332.1 475.4 L1339.6 475.5 L1347.5 475.6 L1355.7 475.6 L1364.2 475.7 L1373.1 475.7 L1382.3 475.8 L1392.0 475.8 L1394.0 475.8 L1396.1 475.8 L1398.3 475.8 L1400.6 475.8 L1403.0 475.8 L1405.5 475.8 L1408.0 475.8 L1410.6 475.8 L1413.4 475.8 L1416.2 475.8 L1419.1 475.8 L1422.1 475.8 L1425.1 475.8 L1428.3 475.8 L1431.5 475.8 L1434.8 475.8 L1438.2 475.8 L1441.7 475.8 L1445.2 475.8 L1448.8 475.8 L1452.5 475.8 L1456.3 475.8 L1460.2 475.8 L1464.1 475.7 L1468.1 475.7 L1472.2 475.7 L1476.3 475.7 L1480.6 475.7 L1484.9 475.7 L1489.2 475.7 L1493.7 475.7 L1498.2 475.7 L1502.8 475.7 L1507.4 475.6 L1512.1 475.6 L1516.9 475.6 L1521.8 475.6 L1526.7 475.6 L1531.6 475.6 L1536.7 475.6 L1541.8 475.6 L1546.9 475.5 L1552.2 475.5 L1557.5 475.5 L1562.8 475.5 L1568.2 475.5 L1573.7 475.5 L1579.2 475.4 L1584.8 475.4 L1590.4 475.4 L1596.1 475.4 L1601.9 475.4 L1607.7 475.4 L1613.5 475.3 L1619.5 475.3 L1625.4 475.3 L1631.4 475.3 L1637.5 475.3 L1643.6 475.2 L1649.8 475.2 L1656.0 475.2 L1662.3 475.2 L1668.6 475.2 L1674.9 475.1 L1681.4 475.1 L1687.8 475.1 L1694.3 475.1 L1700.8 475.0 L1707.4 475.0 L1714.0 475.0 L1720.7 475.0 L1727.4 475.0 L1734.2 474.9 L1740.9 474.9 L1747.8 474.9 L1754.6 474.9 L1761.5 474.8 L1768.5 474.8 L1775.4 474.8 L1782.4 474.8 L1789.5 474.7 L1796.6 474.7 L1803.7 474.7 L1810.8 474.7 L1818.0 474.6 L1825.2 474.6 L1832.4 474.6 L1839.7 474.6 L1847.0 474.5 L1854.3 474.5 L1861.7 474.5 L1869.0 474.5 L1876.4 474.4 L1883.9 474.4 L1891.3 474.4 L1898.8 474.4 L1906.3 474.3 L1913.8 474.3 L1921.3 474.3 L1928.9 474.2 L1936.5 474.2 L1944.1 474.2 L1951.7 474.2 L1959.3 474.1 L1967.0 474.1 L1974.7 474.1 L1982.4 474.1 L1990.1 474.0 L1997.8 474.0 L2005.5 474.0 L2013.3 474.0 L2021.0 473.9 L2028.8 473.9 L2036.6 473.9 L2044.3 473.9 L2052.1 473.8 L2059.9 473.8 L2067.8 473.8 L2075.6 473.7 L2083.4 473.7 L2091.2 473.7 L2099.1 473.7 L2106.9 473.6 L2114.8 473.6 L2122.6 473.6 L2130.5 473.6 L2138.3 473.5 L2146.2 473.5 L2154.0 473.5 L2161.9 473.5 L2169.8 473.4 L2177.6 473.4 L2185.5 473.4 L2193.3 473.4 L2201.1 473.3 L2209.0 473.3 L2216.8 473.3" fill="none" stroke="#00d85a" stroke-width="9.8" stroke-linejoin="round" stroke-opacity="0.34"/>
<path d="M257.6 1326.5 L257.6 1318.7 L257.6 1311.1 L257.6 1303.5 L257.6 1296.1 L257.6 1288.9 L257.6 1281.7 L257.6 1274.7 L257.6 1267.8 L257.5 1260.9 L257.5 1254.2 L257.5 1247.6 L257.5 1241.1 L257.5 1234.7 L257.5 1228.3 L257.5 1222.1 L257.4 1215.9 L257.4 1209.8 L257.4 1203.8 L257.4 1197.8 L257.4 1191.9 L257.4 1186.1 L257.4 1180.3 L257.3 1174.6 L257.3 1168.9 L257.3 1163.3 L257.3 1157.7 L257.3 1152.1 L257.3 1146.6 L257.3 1141.1 L257.2 1135.6 L257.2 1130.2 L257.2 1124.7 L257.2 1119.3 L257.2 1113.8 L257.2 1108.4 L257.2 1103.0 L257.2 1097.6 L257.2 1092.1 L257.2 1086.7 L257.2 1081.2 L257.2 1075.7 L257.2 1070.2 L257.2 1064.7 L257.2 1059.1 L257.2 1053.5 L257.3 1047.8 L257.3 1042.1 L257.3 1036.4 L257.3 1030.6 L257.3 1024.7 L257.4 1018.8 L257.4 1012.8 L257.4 1006.8 L257.5 1000.6 L257.5 994.4 L257.6 988.1 L257.6 981.8 L257.7 972.6 L257.7 963.9 L257.8 955.4 L257.8 947.4 L257.9 939.6 L257.9 932.1 L257.9 925.0 L258.0 918.1 L258.0 911.4 L258.1 905.0 L258.1 898.8 L258.1 892.9 L258.2 887.1 L258.2 881.5 L258.3 876.1 L258.4 870.8 L258.5 865.6 L258.5 860.6 L258.7 855.7 L258.8 850.8 L258.9 846.1 L259.0 841.3 L259.2 836.7 L259.4 832.0 L259.6 827.3 L259.8 822.7 L260.0 818.0 L260.4 807.5 L260.7 800.8 L261.3 795.1 L262.7 788.0 L264.5 782.4 L266.3 778.8 L268.0 775.4 L269.9 769.2 L271.0 764.4 L271.8 758.9 L272.6 752.9 L273.2 746.6 L273.7 739.9 L274.1 733.1 L274.5 726.0 L274.9 718.9 L275.3 711.9 L275.8 704.9 L276.4 698.1 L277.1 691.5 L278.0 685.2 L279.1 679.3 L280.5 673.8 L282.2 668.8 L285.0 663.1 L287.7 660.1 L289.8 658.1 L292.6 654.2 L294.6 649.8 L296.0 645.2 L297.0 640.3 L297.8 635.1 L298.9 629.5 L300.4 623.4 L302.7 617.0 L306.1 610.3 L310.8 603.2 L317.0 595.8 L320.6 592.2 L324.2 588.6 L327.8 585.1 L331.6 581.6 L335.4 578.2 L339.4 574.9 L343.4 571.6 L347.6 568.3 L351.8 565.1 L356.2 561.9 L360.6 558.8 L365.1 555.7 L369.8 552.7 L374.5 549.7 L379.4 546.8 L384.3 543.9 L389.3 541.1 L394.5 538.3 L399.7 535.6 L405.1 532.9 L410.5 530.2 L416.1 527.6 L421.8 525.1 L427.6 522.6 L433.4 520.1 L439.4 517.7 L445.5 515.3 L451.8 513.0 L458.1 510.7 L464.5 508.4 L471.0 506.2 L477.7 504.0 L484.5 501.9 L491.4 499.8 L498.4 497.8 L505.5 495.8 L512.7 493.8 L520.0 491.9 L527.5 490.0 L535.1 488.2 L542.8 486.4 L549.9 484.8 L556.9 483.4 L563.7 482.1 L570.4 480.9 L576.9 479.9 L583.3 479.0 L589.6 478.2 L595.7 477.5 L601.7 476.9 L607.7 476.5 L613.5 476.1 L619.2 475.9 L624.9 475.7 L630.5 475.6 L636.0 475.6 L641.5 475.6 L646.9 475.8 L652.2 476.0 L657.6 476.2 L662.9 476.5 L668.2 476.9 L673.4 477.3 L678.7 477.7 L684.0 478.2 L689.3 478.7 L694.6 479.2 L700.0 479.7 L705.3 480.3 L710.8 480.9 L716.3 481.4 L721.8 482.0 L727.4 482.5 L733.1 483.0 L738.9 483.6 L744.8 484.0 L750.7 484.5 L756.8 484.9 L763.1 485.3 L769.4 485.7 L775.9 486.0 L782.5 486.2 L789.3 486.4 L796.2 486.5 L803.3 486.6 L810.6 486.6 L818.1 486.5 L825.8 486.3 L833.5 486.1 L841.0 485.8 L848.3 485.6 L855.4 485.3 L862.3 485.0 L869.0 484.7 L875.5 484.4 L881.9 484.0 L888.1 483.7 L894.2 483.3 L900.2 483.0 L906.0 482.6 L911.7 482.2 L917.3 481.9 L922.9 481.5 L928.3 481.1 L933.7 480.7 L939.0 480.3 L944.2 479.9 L949.5 479.4 L954.6 479.0 L959.8 478.6 L964.9 478.2 L970.1 477.8 L975.2 477.4 L980.4 477.0 L985.6 476.5 L990.8 476.1 L996.0 475.7 L1001.4 475.3 L1006.7 474.9 L1012.2 474.6 L1017.7 474.2 L1023.4 473.8 L1029.1 473.4 L1035.0 473.1 L1040.9 472.7 L1047.1 472.4 L1053.3 472.1 L1059.7 471.8 L1066.3 471.5 L1073.0 471.2 L1079.9 470.9 L1087.0 470.7 L1094.3 470.4 L1101.9 470.2 L1109.6 470.0 L1117.3 469.8 L1124.6 469.7 L1131.7 469.5 L1138.5 469.4 L1145.1 469.3 L1151.4 469.2 L1157.5 469.1 L1163.3 469.1 L1169.0 469.0 L1174.5 469.0 L1179.9 469.0 L1185.0 469.0 L1190.1 469.0 L1195.0 469.0 L1199.9 469.1 L1204.6 469.1 L1209.3 469.2 L1213.9 469.3 L1218.5 469.3 L1223.0 469.4 L1227.6 469.5 L1232.1 469.6 L1236.7 469.7 L1241.3 469.8 L1245.9 469.9 L1250.6 470.1 L1255.4 470.2 L1260.3 470.3 L1265.3 470.4 L1270.4 470.6 L1275.7 470.7 L1281.1 470.8 L1286.7 470.9 L1292.5 471.1 L1298.5 471.2 L1304.7 471.3 L1311.2 471.4 L1317.9 471.5 L1324.9 471.6 L1332.1 471.7 L1339.6 471.8 L1347.5 471.9 L1355.7 471.9 L1364.2 472.0 L1373.1 472.0 L1382.4 472.1 L1392.0 472.1 L1394.0 472.1 L1396.1 472.1 L1398.3 472.1 L1400.6 472.1 L1403.0 472.1 L1405.5 472.1 L1408.0 472.1 L1410.6 472.1 L1413.4 472.1 L1416.2 472.1 L1419.1 472.1 L1422.1 472.1 L1425.1 472.1 L1428.3 472.1 L1431.5 472.1 L1434.8 472.1 L1438.2 472.1 L1441.7 472.1 L1445.2 472.1 L1448.8 472.1 L1452.5 472.1 L1456.3 472.1 L1460.2 472.1 L1464.1 472.0 L1468.1 472.0 L1472.2 472.0 L1476.3 472.0 L1480.6 472.0 L1484.9 472.0 L1489.2 472.0 L1493.7 472.0 L1498.2 472.0 L1502.8 472.0 L1507.4 471.9 L1512.1 471.9 L1516.9 471.9 L1521.7 471.9 L1526.7 471.9 L1531.6 471.9 L1536.7 471.9 L1541.8 471.9 L1546.9 471.8 L1552.2 471.8 L1557.5 471.8 L1562.8 471.8 L1568.2 471.8 L1573.7 471.8 L1579.2 471.7 L1584.8 471.7 L1590.4 471.7 L1596.1 471.7 L1601.9 471.7 L1607.7 471.7 L1613.5 471.6 L1619.4 471.6 L1625.4 471.6 L1631.4 471.6 L1637.5 471.6 L1643.6 471.5 L1649.8 471.5 L1656.0 471.5 L1662.3 471.5 L1668.6 471.5 L1674.9 471.4 L1681.3 471.4 L1687.8 471.4 L1694.3 471.4 L1700.8 471.3 L1707.4 471.3 L1714.0 471.3 L1720.7 471.3 L1727.4 471.3 L1734.1 471.2 L1740.9 471.2 L1747.8 471.2 L1754.6 471.2 L1761.5 471.1 L1768.5 471.1 L1775.4 471.1 L1782.4 471.1 L1789.5 471.0 L1796.6 471.0 L1803.7 471.0 L1810.8 471.0 L1818.0 470.9 L1825.2 470.9 L1832.4 470.9 L1839.7 470.9 L1847.0 470.8 L1854.3 470.8 L1861.6 470.8 L1869.0 470.8 L1876.4 470.7 L1883.8 470.7 L1891.3 470.7 L1898.8 470.7 L1906.3 470.6 L1913.8 470.6 L1921.3 470.6 L1928.9 470.5 L1936.5 470.5 L1944.1 470.5 L1951.7 470.5 L1959.3 470.4 L1967.0 470.4 L1974.7 470.4 L1982.3 470.4 L1990.0 470.3 L1997.8 470.3 L2005.5 470.3 L2013.2 470.3 L2021.0 470.2 L2028.8 470.2 L2036.5 470.2 L2044.3 470.2 L2052.1 470.1 L2059.9 470.1 L2067.8 470.1 L2075.6 470.0 L2083.4 470.0 L2091.2 470.0 L2099.1 470.0 L2106.9 469.9 L2114.8 469.9 L2122.6 469.9 L2130.5 469.9 L2138.3 469.8 L2146.2 469.8 L2154.0 469.8 L2161.9 469.8 L2169.7 469.7 L2177.6 469.7 L2185.4 469.7 L2193.3 469.7 L2201.1 469.6 L2209.0 469.6 L2216.8 469.6" fill="none" stroke="#21dc78" stroke-width="2.2" stroke-linejoin="round" stroke-opacity="0.75"/>
<path d="M265.0 1326.5 L265.0 1318.7 L265.0 1311.1 L265.0 1303.5 L265.0 1296.1 L265.0 1288.9 L265.0 1281.7 L265.0 1274.7 L265.0 1267.7 L264.9 1260.9 L264.9 1254.2 L264.9 1247.6 L264.9 1241.1 L264.9 1234.7 L264.9 1228.3 L264.9 1222.1 L264.8 1215.9 L264.8 1209.8 L264.8 1203.8 L264.8 1197.8 L264.8 1191.9 L264.8 1186.1 L264.8 1180.3 L264.7 1174.6 L264.7 1168.9 L264.7 1163.3 L264.7 1157.7 L264.7 1152.1 L264.7 1146.6 L264.7 1141.1 L264.6 1135.6 L264.6 1130.1 L264.6 1124.7 L264.6 1119.3 L264.6 1113.8 L264.6 1108.4 L264.6 1103.0 L264.6 1097.6 L264.6 1092.1 L264.6 1086.7 L264.6 1081.2 L264.6 1075.7 L264.6 1070.2 L264.6 1064.7 L264.6 1059.1 L264.6 1053.5 L264.7 1047.8 L264.7 1042.2 L264.7 1036.4 L264.7 1030.6 L264.7 1024.8 L264.8 1018.8 L264.8 1012.9 L264.8 1006.8 L264.9 1000.7 L264.9 994.5 L265.0 988.2 L265.0 981.8 L265.1 972.7 L265.1 963.9 L265.2 955.5 L265.2 947.4 L265.3 939.6 L265.3 932.2 L265.3 925.0 L265.4 918.1 L265.4 911.5 L265.5 905.1 L265.5 898.9 L265.5 892.9 L265.6 887.2 L265.6 881.6 L265.7 876.2 L265.8 870.9 L265.9 865.8 L265.9 860.8 L266.0 855.8 L266.2 851.0 L266.3 846.3 L266.4 841.6 L266.6 836.9 L266.8 832.3 L267.0 827.7 L267.2 823.0 L267.4 818.4 L267.8 807.8 L268.1 801.3 L268.6 796.2 L269.9 789.8 L271.4 785.1 L272.9 782.1 L274.9 778.0 L277.1 771.2 L278.2 765.7 L279.2 759.9 L279.9 753.7 L280.5 747.2 L281.0 740.4 L281.5 733.5 L281.9 726.5 L282.3 719.4 L282.7 712.4 L283.2 705.5 L283.8 698.8 L284.5 692.4 L285.3 686.4 L286.4 680.9 L287.6 675.9 L289.0 671.6 L291.2 667.1 L292.9 665.3 L295.6 662.8 L299.0 657.8 L301.5 652.4 L303.1 647.0 L304.2 641.7 L305.1 636.4 L306.1 631.0 L307.5 625.6 L309.5 620.0 L312.5 614.0 L316.7 607.7 L322.6 600.8 L325.9 597.3 L329.3 593.9 L332.9 590.5 L336.5 587.1 L340.3 583.8 L344.1 580.5 L348.1 577.3 L352.1 574.2 L356.2 571.0 L360.5 567.9 L364.8 564.9 L369.2 561.9 L373.8 559.0 L378.4 556.0 L383.1 553.2 L388.0 550.4 L392.9 547.6 L398.0 544.9 L403.1 542.2 L408.4 539.5 L413.7 536.9 L419.2 534.4 L424.8 531.9 L430.5 529.4 L436.3 526.9 L442.2 524.6 L448.2 522.2 L454.3 519.9 L460.6 517.6 L466.9 515.4 L473.4 513.2 L480.0 511.1 L486.7 509.0 L493.5 506.9 L500.4 504.9 L507.4 502.9 L514.6 501.0 L521.9 499.1 L529.3 497.2 L536.8 495.4 L544.4 493.6 L551.5 492.0 L558.3 490.6 L565.1 489.4 L571.6 488.2 L578.0 487.2 L584.3 486.3 L590.4 485.5 L596.5 484.9 L602.4 484.3 L608.2 483.9 L613.9 483.5 L619.5 483.3 L625.1 483.1 L630.5 483.0 L636.0 483.0 L641.3 483.0 L646.6 483.2 L651.9 483.4 L657.2 483.6 L662.4 483.9 L667.6 484.3 L672.9 484.7 L678.1 485.1 L683.3 485.6 L688.6 486.1 L693.9 486.6 L699.2 487.1 L704.6 487.7 L710.0 488.2 L715.5 488.8 L721.1 489.3 L726.7 489.9 L732.4 490.4 L738.3 490.9 L744.2 491.4 L750.2 491.9 L756.3 492.3 L762.6 492.7 L769.0 493.1 L775.6 493.4 L782.3 493.6 L789.1 493.8 L796.1 493.9 L803.3 494.0 L810.7 494.0 L818.3 493.9 L826.0 493.7 L833.7 493.5 L841.3 493.2 L848.6 493.0 L855.7 492.7 L862.6 492.4 L869.3 492.1 L875.9 491.8 L882.3 491.4 L888.6 491.1 L894.7 490.7 L900.6 490.4 L906.5 490.0 L912.2 489.6 L917.9 489.2 L923.4 488.8 L928.9 488.4 L934.2 488.0 L939.6 487.6 L944.8 487.2 L950.0 486.8 L955.2 486.4 L960.4 486.0 L965.5 485.6 L970.7 485.2 L975.8 484.7 L981.0 484.3 L986.1 483.9 L991.3 483.5 L996.6 483.1 L1001.9 482.7 L1007.3 482.3 L1012.7 481.9 L1018.2 481.6 L1023.9 481.2 L1029.6 480.8 L1035.4 480.5 L1041.4 480.1 L1047.5 479.8 L1053.7 479.5 L1060.1 479.2 L1066.6 478.9 L1073.3 478.6 L1080.2 478.3 L1087.3 478.1 L1094.6 477.8 L1102.1 477.6 L1109.8 477.4 L1117.4 477.2 L1124.8 477.1 L1131.9 476.9 L1138.6 476.8 L1145.2 476.7 L1151.5 476.6 L1157.5 476.5 L1163.4 476.5 L1169.1 476.4 L1174.5 476.4 L1179.9 476.4 L1185.0 476.4 L1190.1 476.4 L1195.0 476.4 L1199.8 476.5 L1204.5 476.5 L1209.2 476.6 L1213.8 476.7 L1218.4 476.7 L1222.9 476.8 L1227.4 476.9 L1231.9 477.0 L1236.5 477.1 L1241.1 477.2 L1245.7 477.3 L1250.4 477.5 L1255.2 477.6 L1260.1 477.7 L1265.1 477.8 L1270.3 478.0 L1275.5 478.1 L1281.0 478.2 L1286.6 478.3 L1292.4 478.5 L1298.4 478.6 L1304.6 478.7 L1311.1 478.8 L1317.8 478.9 L1324.8 479.0 L1332.0 479.1 L1339.6 479.2 L1347.4 479.3 L1355.6 479.3 L1364.2 479.4 L1373.1 479.4 L1382.3 479.5 L1392.0 479.5 L1394.0 479.5 L1396.1 479.5 L1398.3 479.5 L1400.6 479.5 L1403.0 479.5 L1405.5 479.5 L1408.0 479.5 L1410.6 479.5 L1413.4 479.5 L1416.2 479.5 L1419.1 479.5 L1422.1 479.5 L1425.1 479.5 L1428.3 479.5 L1431.5 479.5 L1434.8 479.5 L1438.2 479.5 L1441.7 479.5 L1445.2 479.5 L1448.8 479.5 L1452.5 479.5 L1456.3 479.5 L1460.2 479.5 L1464.1 479.4 L1468.1 479.4 L1472.2 479.4 L1476.4 479.4 L1480.6 479.4 L1484.9 479.4 L1489.2 479.4 L1493.7 479.4 L1498.2 479.4 L1502.8 479.4 L1507.4 479.3 L1512.1 479.3 L1516.9 479.3 L1521.8 479.3 L1526.7 479.3 L1531.6 479.3 L1536.7 479.3 L1541.8 479.3 L1547.0 479.2 L1552.2 479.2 L1557.5 479.2 L1562.8 479.2 L1568.2 479.2 L1573.7 479.2 L1579.2 479.1 L1584.8 479.1 L1590.4 479.1 L1596.1 479.1 L1601.9 479.1 L1607.7 479.1 L1613.6 479.0 L1619.5 479.0 L1625.4 479.0 L1631.5 479.0 L1637.5 479.0 L1643.6 478.9 L1649.8 478.9 L1656.0 478.9 L1662.3 478.9 L1668.6 478.9 L1675.0 478.8 L1681.4 478.8 L1687.8 478.8 L1694.3 478.8 L1700.8 478.7 L1707.4 478.7 L1714.1 478.7 L1720.7 478.7 L1727.4 478.7 L1734.2 478.6 L1741.0 478.6 L1747.8 478.6 L1754.6 478.6 L1761.5 478.5 L1768.5 478.5 L1775.5 478.5 L1782.5 478.5 L1789.5 478.4 L1796.6 478.4 L1803.7 478.4 L1810.8 478.4 L1818.0 478.3 L1825.2 478.3 L1832.4 478.3 L1839.7 478.3 L1847.0 478.2 L1854.3 478.2 L1861.7 478.2 L1869.0 478.2 L1876.4 478.1 L1883.9 478.1 L1891.3 478.1 L1898.8 478.1 L1906.3 478.0 L1913.8 478.0 L1921.4 478.0 L1928.9 477.9 L1936.5 477.9 L1944.1 477.9 L1951.7 477.9 L1959.4 477.8 L1967.0 477.8 L1974.7 477.8 L1982.4 477.8 L1990.1 477.7 L1997.8 477.7 L2005.5 477.7 L2013.3 477.7 L2021.0 477.6 L2028.8 477.6 L2036.6 477.6 L2044.4 477.6 L2052.2 477.5 L2060.0 477.5 L2067.8 477.5 L2075.6 477.4 L2083.4 477.4 L2091.3 477.4 L2099.1 477.4 L2106.9 477.3 L2114.8 477.3 L2122.6 477.3 L2130.5 477.3 L2138.3 477.2 L2146.2 477.2 L2154.1 477.2 L2161.9 477.2 L2169.8 477.1 L2177.6 477.1 L2185.5 477.1 L2193.3 477.1 L2201.1 477.0 L2209.0 477.0 L2216.8 477.0" fill="none" stroke="#21dc78" stroke-width="2.2" stroke-linejoin="round" stroke-opacity="0.75"/>
<path d="M261.3 1326.5 L261.3 1318.7 L261.3 1311.1 L261.3 1303.5 L261.3 1296.1 L261.3 1288.9 L261.3 1281.7 L261.3 1274.7 L261.3 1267.7 L261.2 1260.9 L261.2 1254.2 L261.2 1247.6 L261.2 1241.1 L261.2 1234.7 L261.2 1228.3 L261.2 1222.1 L261.1 1215.9 L261.1 1209.8 L261.1 1203.8 L261.1 1197.8 L261.1 1191.9 L261.1 1186.1 L261.1 1180.3 L261.0 1174.6 L261.0 1168.9 L261.0 1163.3 L261.0 1157.7 L261.0 1152.1 L261.0 1146.6 L261.0 1141.1 L260.9 1135.6 L260.9 1130.1 L260.9 1124.7 L260.9 1119.3 L260.9 1113.8 L260.9 1108.4 L260.9 1103.0 L260.9 1097.6 L260.9 1092.1 L260.9 1086.7 L260.9 1081.2 L260.9 1075.7 L260.9 1070.2 L260.9 1064.7 L260.9 1059.1 L260.9 1053.5 L261.0 1047.8 L261.0 1042.1 L261.0 1036.4 L261.0 1030.6 L261.0 1024.7 L261.1 1018.8 L261.1 1012.8 L261.1 1006.8 L261.2 1000.7 L261.2 994.5 L261.3 988.2 L261.3 981.8 L261.4 972.7 L261.4 963.9 L261.5 955.5 L261.5 947.4 L261.6 939.6 L261.6 932.2 L261.6 925.0 L261.7 918.1 L261.7 911.4 L261.8 905.0 L261.8 898.9 L261.8 892.9 L261.9 887.1 L261.9 881.5 L262.0 876.1 L262.1 870.9 L262.2 865.7 L262.2 860.7 L262.3 855.8 L262.5 850.9 L262.6 846.2 L262.7 841.5 L262.9 836.8 L263.1 832.1 L263.3 827.5 L263.5 822.9 L263.7 818.2 L264.1 807.6 L264.4 801.0 L264.9 795.7 L266.3 788.9 L267.9 783.7 L269.6 780.4 L271.5 776.7 L273.5 770.2 L274.6 765.1 L275.5 759.4 L276.2 753.3 L276.8 746.9 L277.3 740.2 L277.8 733.3 L278.2 726.2 L278.6 719.2 L279.0 712.1 L279.5 705.2 L280.1 698.4 L280.8 692.0 L281.7 685.8 L282.8 680.1 L284.0 674.9 L285.6 670.2 L288.1 665.1 L290.3 662.7 L292.7 660.5 L295.8 656.0 L298.0 651.1 L299.6 646.1 L300.6 641.0 L301.5 635.7 L302.5 630.2 L304.0 624.5 L306.1 618.5 L309.3 612.2 L313.7 605.4 L319.8 598.3 L323.2 594.7 L326.7 591.2 L330.4 587.8 L334.1 584.4 L337.9 581.0 L341.8 577.7 L345.8 574.4 L349.8 571.2 L354.0 568.1 L358.3 564.9 L362.7 561.9 L367.2 558.8 L371.8 555.8 L376.5 552.9 L381.2 550.0 L386.1 547.2 L391.1 544.4 L396.2 541.6 L401.4 538.9 L406.7 536.2 L412.1 533.6 L417.7 531.0 L423.3 528.5 L429.0 526.0 L434.9 523.5 L440.8 521.1 L446.9 518.8 L453.0 516.4 L459.3 514.1 L465.7 511.9 L472.2 509.7 L478.8 507.6 L485.6 505.4 L492.4 503.4 L499.4 501.3 L506.4 499.4 L513.6 497.4 L521.0 495.5 L528.4 493.6 L535.9 491.8 L543.6 490.0 L550.7 488.4 L557.6 487.0 L564.4 485.7 L571.0 484.6 L577.5 483.5 L583.8 482.6 L590.0 481.9 L596.1 481.2 L602.1 480.6 L607.9 480.2 L613.7 479.8 L619.4 479.6 L625.0 479.4 L630.5 479.3 L636.0 479.3 L641.4 479.3 L646.8 479.5 L652.1 479.7 L657.4 479.9 L662.6 480.2 L667.9 480.6 L673.2 481.0 L678.4 481.4 L683.7 481.9 L688.9 482.4 L694.2 482.9 L699.6 483.4 L705.0 484.0 L710.4 484.5 L715.9 485.1 L721.4 485.6 L727.1 486.2 L732.8 486.7 L738.6 487.2 L744.5 487.7 L750.5 488.2 L756.6 488.6 L762.8 489.0 L769.2 489.4 L775.7 489.7 L782.4 489.9 L789.2 490.1 L796.2 490.2 L803.3 490.3 L810.7 490.3 L818.2 490.2 L825.9 490.0 L833.6 489.8 L841.1 489.5 L848.4 489.3 L855.5 489.0 L862.4 488.7 L869.2 488.4 L875.7 488.1 L882.1 487.7 L888.3 487.4 L894.4 487.0 L900.4 486.7 L906.3 486.3 L912.0 485.9 L917.6 485.5 L923.1 485.2 L928.6 484.8 L934.0 484.4 L939.3 483.9 L944.5 483.5 L949.8 483.1 L954.9 482.7 L960.1 482.3 L965.2 481.9 L970.4 481.5 L975.5 481.1 L980.7 480.6 L985.8 480.2 L991.1 479.8 L996.3 479.4 L1001.6 479.0 L1007.0 478.6 L1012.5 478.2 L1018.0 477.9 L1023.6 477.5 L1029.4 477.1 L1035.2 476.8 L1041.2 476.4 L1047.3 476.1 L1053.5 475.8 L1059.9 475.5 L1066.4 475.2 L1073.2 474.9 L1080.1 474.6 L1087.2 474.4 L1094.5 474.1 L1102.0 473.9 L1109.7 473.7 L1117.4 473.5 L1124.7 473.4 L1131.8 473.2 L1138.6 473.1 L1145.1 473.0 L1151.4 472.9 L1157.5 472.8 L1163.4 472.8 L1169.0 472.7 L1174.5 472.7 L1179.9 472.7 L1185.0 472.7 L1190.1 472.7 L1195.0 472.7 L1199.8 472.8 L1204.6 472.8 L1209.2 472.9 L1213.9 473.0 L1218.4 473.0 L1223.0 473.1 L1227.5 473.2 L1232.0 473.3 L1236.6 473.4 L1241.2 473.5 L1245.8 473.6 L1250.5 473.8 L1255.3 473.9 L1260.2 474.0 L1265.2 474.1 L1270.4 474.3 L1275.6 474.4 L1281.1 474.5 L1286.7 474.6 L1292.5 474.8 L1298.5 474.9 L1304.7 475.0 L1311.1 475.1 L1317.8 475.2 L1324.8 475.3 L1332.1 475.4 L1339.6 475.5 L1347.5 475.6 L1355.7 475.6 L1364.2 475.7 L1373.1 475.7 L1382.3 475.8 L1392.0 475.8 L1394.0 475.8 L1396.1 475.8 L1398.3 475.8 L1400.6 475.8 L1403.0 475.8 L1405.5 475.8 L1408.0 475.8 L1410.6 475.8 L1413.4 475.8 L1416.2 475.8 L1419.1 475.8 L1422.1 475.8 L1425.1 475.8 L1428.3 475.8 L1431.5 475.8 L1434.8 475.8 L1438.2 475.8 L1441.7 475.8 L1445.2 475.8 L1448.8 475.8 L1452.5 475.8 L1456.3 475.8 L1460.2 475.8 L1464.1 475.7 L1468.1 475.7 L1472.2 475.7 L1476.3 475.7 L1480.6 475.7 L1484.9 475.7 L1489.2 475.7 L1493.7 475.7 L1498.2 475.7 L1502.8 475.7 L1507.4 475.6 L1512.1 475.6 L1516.9 475.6 L1521.8 475.6 L1526.7 475.6 L1531.6 475.6 L1536.7 475.6 L1541.8 475.6 L1546.9 475.5 L1552.2 475.5 L1557.5 475.5 L1562.8 475.5 L1568.2 475.5 L1573.7 475.5 L1579.2 475.4 L1584.8 475.4 L1590.4 475.4 L1596.1 475.4 L1601.9 475.4 L1607.7 475.4 L1613.5 475.3 L1619.5 475.3 L1625.4 475.3 L1631.4 475.3 L1637.5 475.3 L1643.6 475.2 L1649.8 475.2 L1656.0 475.2 L1662.3 475.2 L1668.6 475.2 L1674.9 475.1 L1681.4 475.1 L1687.8 475.1 L1694.3 475.1 L1700.8 475.0 L1707.4 475.0 L1714.0 475.0 L1720.7 475.0 L1727.4 475.0 L1734.2 474.9 L1740.9 474.9 L1747.8 474.9 L1754.6 474.9 L1761.5 474.8 L1768.5 474.8 L1775.4 474.8 L1782.4 474.8 L1789.5 474.7 L1796.6 474.7 L1803.7 474.7 L1810.8 474.7 L1818.0 474.6 L1825.2 474.6 L1832.4 474.6 L1839.7 474.6 L1847.0 474.5 L1854.3 474.5 L1861.7 474.5 L1869.0 474.5 L1876.4 474.4 L1883.9 474.4 L1891.3 474.4 L1898.8 474.4 L1906.3 474.3 L1913.8 474.3 L1921.3 474.3 L1928.9 474.2 L1936.5 474.2 L1944.1 474.2 L1951.7 474.2 L1959.3 474.1 L1967.0 474.1 L1974.7 474.1 L1982.4 474.1 L1990.1 474.0 L1997.8 474.0 L2005.5 474.0 L2013.3 474.0 L2021.0 473.9 L2028.8 473.9 L2036.6 473.9 L2044.3 473.9 L2052.1 473.8 L2059.9 473.8 L2067.8 473.8 L2075.6 473.7 L2083.4 473.7 L2091.2 473.7 L2099.1 473.7 L2106.9 473.6 L2114.8 473.6 L2122.6 473.6 L2130.5 473.6 L2138.3 473.5 L2146.2 473.5 L2154.0 473.5 L2161.9 473.5 L2169.8 473.4 L2177.6 473.4 L2185.5 473.4 L2193.3 473.4 L2201.1 473.3 L2209.0 473.3 L2216.8 473.3" fill="none" stroke="#00c828" stroke-width="2.6" stroke-linejoin="round"/></g>
<path d="M260.6 1300V1007" stroke="#00bb1e" stroke-width="3.4" fill="none"/><path d="M262.2 957V843" stroke="#00b91c" stroke-width="8.6" fill="none"/><path d="M260 746V716" stroke="#00b91c" stroke-width="4.4" fill="none"/><path d="M264.6 746V716" stroke="#b9bd8c" stroke-width="4.6" fill="none"/>
<circle cx="261.0" cy="1327.0" r="23.3" fill="url(#gg)" stroke="#00cc22" stroke-width="3.7"/>
<circle cx="261.0" cy="982.3" r="23.3" fill="url(#gg)" stroke="#00cc22" stroke-width="3.7"/>
<circle cx="263.4" cy="818.7" r="23.3" fill="url(#gg)" stroke="#00cc22" stroke-width="3.7"/>
<circle cx="266.0" cy="789.4" r="23.3" fill="url(#gg)" stroke="#00cc22" stroke-width="3.7"/>
<circle cx="273.2" cy="770.7" r="23.3" fill="url(#gg)" stroke="#00cc22" stroke-width="3.7"/>
<circle cx="285.3" cy="670.7" r="23.3" fill="url(#gg)" stroke="#00cc22" stroke-width="3.7"/>
<circle cx="295.5" cy="656.5" r="23.3" fill="url(#gg)" stroke="#00cc22" stroke-width="3.7"/>
<circle cx="319.5" cy="598.8" r="23.3" fill="url(#gg)" stroke="#00cc22" stroke-width="3.7"/>
<circle cx="543.3" cy="490.5" r="23.3" fill="url(#gg)" stroke="#00cc22" stroke-width="3.7"/>
<circle cx="825.6" cy="490.5" r="23.3" fill="url(#gg)" stroke="#00cc22" stroke-width="3.7"/>
<circle cx="1109.4" cy="474.2" r="23.3" fill="url(#gg)" stroke="#00cc22" stroke-width="3.7"/>
<circle cx="1391.7" cy="476.3" r="23.3" fill="url(#gg)" stroke="#00cc22" stroke-width="3.7"/>
<circle cx="2216.5" cy="473.8" r="23.3" fill="url(#gg)" stroke="#00cc22" stroke-width="3.7"/>
</g>
<g id="legend">
<rect x="508" y="96.4" width="75" height="9.6" rx="2.6" fill="#ff4fa0"/><rect x="509.5" y="98.60000000000001" width="5" height="5.2" fill="#e8005f"/><rect x="576.5" y="98.60000000000001" width="5" height="5.2" fill="#e8005f"/>
<rect x="522.5" y="77.3" width="43.3" height="43.3" fill="url(#gr)" stroke="#ee0000" stroke-width="4.7"/>
<rect x="508" y="195.29999999999998" width="75" height="9.6" rx="2.6" fill="#00e16e"/><rect x="509.5" y="197.5" width="5" height="5.2" fill="#00c814"/><rect x="576.5" y="197.5" width="5" height="5.2" fill="#00c814"/>
<rect x="522.5" y="176.2" width="43.3" height="43.3" fill="url(#gp)" stroke="#b130ff" stroke-width="4.7"/>
<rect x="1260.6" y="96.4" width="74.10000000000014" height="9.6" rx="2.6" fill="#ff4fa0"/><rect x="1262.1" y="98.60000000000001" width="5" height="5.2" fill="#e8005f"/><rect x="1328.2" y="98.60000000000001" width="5" height="5.2" fill="#e8005f"/>
<circle cx="1295.4" cy="98.7" r="22.0" fill="url(#gbl)" stroke="#0069a6" stroke-width="4.4"/>
<rect x="1260.6" y="195.29999999999998" width="74.10000000000014" height="9.6" rx="2.6" fill="#00e16e"/><rect x="1262.1" y="197.5" width="5" height="5.2" fill="#00c814"/><rect x="1328.2" y="197.5" width="5" height="5.2" fill="#00c814"/>
<circle cx="1295.4" cy="197.5" r="22.2" fill="url(#ggl)" stroke="#00cc22" stroke-width="4.0"/>
<g font-size="75">
<text y="122.7"><tspan x="606">BC</tspan><tspan dy="7.5">_</tspan><tspan dy="-7.5">CO</tspan><tspan x="860" dy="16.5" font-size="48">2</tspan><tspan x="883.5" dy="-9.0">_</tspan><tspan dy="-7.5">Pt(II)</tspan></text>
<text y="227"><tspan x="606">BC</tspan><tspan dy="7.5">_</tspan><tspan dy="-7.5">H</tspan><tspan x="805.3" dy="16.5" font-size="48">3</tspan><tspan x="829.3" dy="-16.5">PO</tspan><tspan x="932.5" dy="16.5" font-size="48">4</tspan><tspan x="956.4" dy="-9.0">_</tspan><tspan dy="-7.5">Pt(II)</tspan></text>
<text y="122.7"><tspan x="1358.2">BC</tspan><tspan dy="7.5">_</tspan><tspan dy="-7.5">CO</tspan><tspan x="1612.2" dy="16.5" font-size="48">2</tspan><tspan x="1635.7" dy="-9.0">_</tspan><tspan dy="-7.5">Pt(IV)</tspan></text>
<text y="227"><tspan x="1358.2">BC</tspan><tspan dy="7.5">_</tspan><tspan dy="-7.5">H</tspan><tspan x="1557.5" dy="16.5" font-size="48">3</tspan><tspan x="1581.5" dy="-16.5">PO</tspan><tspan x="1684.7" dy="16.5" font-size="48">4</tspan><tspan x="1708.6" dy="-9.0">_</tspan><tspan dy="-7.5">Pt(IV)</tspan></text>
</g></g>
</svg></body></html>
